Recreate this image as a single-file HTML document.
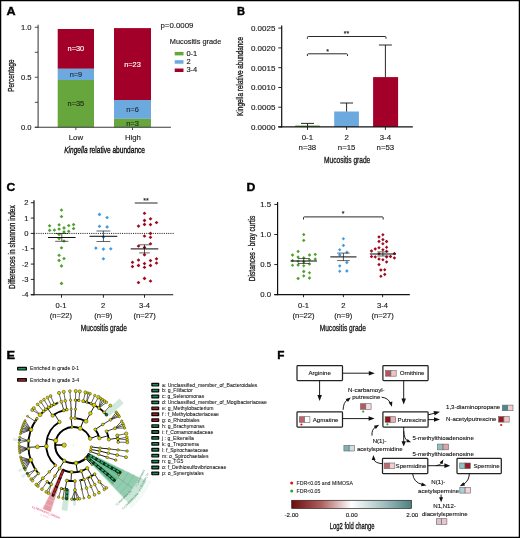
<!DOCTYPE html>
<html><head><meta charset="utf-8"><title>Figure</title>
<style>html,body{margin:0;padding:0;background:#fff;}body{width:520px;height:538px;overflow:hidden;position:relative;font-family:"Liberation Sans",sans-serif;}</style></head>
<body>
<svg width="520" height="538" viewBox="0 0 520 538" font-family='"Liberation Sans", sans-serif' style="display:block;position:absolute;left:0;top:0;will-change:transform">
<rect x="0" y="0" width="520" height="538" fill="#fff"/>
<text x="0" y="0" font-size="10.5" font-weight="bold" fill="#000" stroke="#000" stroke-width="0.35" transform="translate(6.60 15.30) scale(1.2 1)">A</text>
<rect x="57.70" y="29.00" width="36.30" height="39.80" fill="#A30029" />
<rect x="57.70" y="68.80" width="36.30" height="11.20" fill="#6CA9DE" />
<rect x="57.70" y="80.00" width="36.30" height="47.40" fill="#66A63D" />
<rect x="114.00" y="28.10" width="37.00" height="71.90" fill="#A30029" />
<rect x="114.00" y="100.00" width="37.00" height="18.80" fill="#6CA9DE" />
<rect x="114.00" y="118.80" width="37.00" height="8.60" fill="#66A63D" />
<line x1="38.10" y1="24.70" x2="38.10" y2="127.80" stroke="#3a3a3a" stroke-width="1.05" />
<line x1="34.80" y1="127.30" x2="170.90" y2="127.30" stroke="#3a3a3a" stroke-width="1.05" />
<line x1="34.80" y1="27.25" x2="38.10" y2="27.25" stroke="#3a3a3a" stroke-width="0.9" />
<text x="31.60" y="30.00" font-size="7.6" text-anchor="end" fill="#1a1a1a" stroke="#1a1a1a" stroke-width="0.14" >1.0</text>
<line x1="34.80" y1="52.30" x2="38.10" y2="52.30" stroke="#3a3a3a" stroke-width="0.9" />
<line x1="34.80" y1="77.25" x2="38.10" y2="77.25" stroke="#3a3a3a" stroke-width="0.9" />
<text x="31.60" y="80.00" font-size="7.6" text-anchor="end" fill="#1a1a1a" stroke="#1a1a1a" stroke-width="0.14" >0.5</text>
<line x1="34.80" y1="102.30" x2="38.10" y2="102.30" stroke="#3a3a3a" stroke-width="0.9" />
<line x1="34.80" y1="127.30" x2="38.10" y2="127.30" stroke="#3a3a3a" stroke-width="0.9" />
<text x="31.60" y="130.05" font-size="7.6" text-anchor="end" fill="#1a1a1a" stroke="#1a1a1a" stroke-width="0.14" >0.0</text>
<line x1="75.90" y1="127.30" x2="75.90" y2="130.00" stroke="#3a3a3a" stroke-width="0.9" />
<line x1="132.50" y1="127.30" x2="132.50" y2="130.00" stroke="#3a3a3a" stroke-width="0.9" />
<text x="75.90" y="140.00" font-size="7.8" text-anchor="middle" fill="#1a1a1a" stroke="#1a1a1a" stroke-width="0.14" >Low</text>
<text x="132.90" y="140.00" font-size="7.8" text-anchor="middle" fill="#1a1a1a" stroke="#1a1a1a" stroke-width="0.14" >High</text>
<text x="75.90" y="51.40" font-size="7.4" text-anchor="middle" fill="#fff" stroke="#fff" stroke-width="0.14" >n=30</text>
<text x="75.90" y="77.40" font-size="7.4" text-anchor="middle" fill="#1d2a3a" stroke="#1d2a3a" stroke-width="0.14" >n=9</text>
<text x="75.90" y="106.40" font-size="7.4" text-anchor="middle" fill="#1c2a14" stroke="#1c2a14" stroke-width="0.14" >n=35</text>
<text x="132.50" y="66.80" font-size="7.4" text-anchor="middle" fill="#fff" stroke="#fff" stroke-width="0.14" >n=23</text>
<text x="132.50" y="112.00" font-size="7.4" text-anchor="middle" fill="#1d2a3a" stroke="#1d2a3a" stroke-width="0.14" >n=6</text>
<text x="132.50" y="125.50" font-size="7.4" text-anchor="middle" fill="#1c2a14" stroke="#1c2a14" stroke-width="0.14" >n=3</text>
<text x="64.2" y="153.3" font-size="9.0" fill="#0a0a0a" stroke="#0a0a0a" stroke-width="0.32" textLength="80.8" lengthAdjust="spacingAndGlyphs"><tspan font-style="italic">Kingella</tspan> relative abundance</text>
<text x="14.40" y="75.60" font-size="9.0" text-anchor="middle" fill="#1a1a1a" textLength="32.50" lengthAdjust="spacingAndGlyphs" stroke="#1a1a1a" stroke-width="0.32" transform="rotate(-90 14.40 75.60)" >Percentage</text>
<text x="160.50" y="27.60" font-size="7.85" text-anchor="start" fill="#1a1a1a" stroke="#1a1a1a" stroke-width="0.14" >p=0.0009</text>
<text x="169.80" y="44.30" font-size="7.35" text-anchor="start" fill="#1a1a1a" stroke="#1a1a1a" stroke-width="0.14" >Mucositis grade</text>
<rect x="174.70" y="51.90" width="8.80" height="3.50" fill="#66A63D" />
<text x="186.40" y="55.60" font-size="7.5" text-anchor="start" fill="#1a1a1a" stroke="#1a1a1a" stroke-width="0.14" >0-1</text>
<rect x="174.70" y="60.20" width="8.80" height="3.50" fill="#6CA9DE" />
<text x="186.40" y="63.90" font-size="7.5" text-anchor="start" fill="#1a1a1a" stroke="#1a1a1a" stroke-width="0.14" >2</text>
<rect x="174.70" y="68.50" width="8.80" height="3.50" fill="#A30029" />
<text x="186.40" y="72.20" font-size="7.5" text-anchor="start" fill="#1a1a1a" stroke="#1a1a1a" stroke-width="0.14" >3-4</text>
<text x="0" y="0" font-size="10.5" font-weight="bold" fill="#000" stroke="#000" stroke-width="0.35" transform="translate(236.90 15.10) scale(1.06 1)">B</text>
<rect x="295.20" y="125.50" width="24.60" height="1.40" fill="#66A63D" />
<rect x="334.20" y="111.50" width="24.70" height="15.40" fill="#6CA9DE" />
<rect x="373.10" y="77.10" width="25.00" height="49.80" fill="#A30029" />
<line x1="307.50" y1="123.40" x2="307.50" y2="126.00" stroke="#111" stroke-width="0.9" />
<line x1="301.00" y1="123.40" x2="314.00" y2="123.40" stroke="#111" stroke-width="0.9" />
<line x1="346.60" y1="103.00" x2="346.60" y2="111.50" stroke="#111" stroke-width="0.9" />
<line x1="340.20" y1="103.00" x2="353.00" y2="103.00" stroke="#111" stroke-width="0.9" />
<line x1="385.40" y1="45.00" x2="385.40" y2="77.10" stroke="#111" stroke-width="0.9" />
<line x1="378.90" y1="45.00" x2="391.90" y2="45.00" stroke="#111" stroke-width="0.9" />
<line x1="281.70" y1="25.60" x2="281.70" y2="127.50" stroke="#111" stroke-width="1.2" />
<line x1="278.30" y1="126.90" x2="412.80" y2="126.90" stroke="#111" stroke-width="1.2" />
<line x1="278.30" y1="28.10" x2="281.70" y2="28.10" stroke="#111" stroke-width="0.9" />
<text x="275.40" y="30.95" font-size="8.0" text-anchor="end" fill="#1a1a1a" stroke="#1a1a1a" stroke-width="0.14" >0.0025</text>
<line x1="278.30" y1="47.90" x2="281.70" y2="47.90" stroke="#111" stroke-width="0.9" />
<text x="275.40" y="50.75" font-size="8.0" text-anchor="end" fill="#1a1a1a" stroke="#1a1a1a" stroke-width="0.14" >0.0020</text>
<line x1="278.30" y1="67.70" x2="281.70" y2="67.70" stroke="#111" stroke-width="0.9" />
<text x="275.40" y="70.55" font-size="8.0" text-anchor="end" fill="#1a1a1a" stroke="#1a1a1a" stroke-width="0.14" >0.0015</text>
<line x1="278.30" y1="87.50" x2="281.70" y2="87.50" stroke="#111" stroke-width="0.9" />
<text x="275.40" y="90.35" font-size="8.0" text-anchor="end" fill="#1a1a1a" stroke="#1a1a1a" stroke-width="0.14" >0.0010</text>
<line x1="278.30" y1="107.20" x2="281.70" y2="107.20" stroke="#111" stroke-width="0.9" />
<text x="275.40" y="110.05" font-size="8.0" text-anchor="end" fill="#1a1a1a" stroke="#1a1a1a" stroke-width="0.14" >0.0005</text>
<line x1="278.30" y1="126.90" x2="281.70" y2="126.90" stroke="#111" stroke-width="0.9" />
<text x="275.40" y="129.75" font-size="8.0" text-anchor="end" fill="#1a1a1a" stroke="#1a1a1a" stroke-width="0.14" >0.0000</text>
<line x1="307.50" y1="126.90" x2="307.50" y2="129.90" stroke="#111" stroke-width="0.9" />
<line x1="346.60" y1="126.90" x2="346.60" y2="129.90" stroke="#111" stroke-width="0.9" />
<line x1="385.40" y1="126.90" x2="385.40" y2="129.90" stroke="#111" stroke-width="0.9" />
<text x="307.40" y="139.90" font-size="7.8" text-anchor="middle" fill="#1a1a1a" stroke="#1a1a1a" stroke-width="0.14" >0-1</text>
<text x="307.40" y="149.60" font-size="7.8" text-anchor="middle" fill="#1a1a1a" stroke="#1a1a1a" stroke-width="0.14" >n=38</text>
<text x="346.60" y="139.90" font-size="7.8" text-anchor="middle" fill="#1a1a1a" stroke="#1a1a1a" stroke-width="0.14" >2</text>
<text x="346.60" y="149.60" font-size="7.8" text-anchor="middle" fill="#1a1a1a" stroke="#1a1a1a" stroke-width="0.14" >n=15</text>
<text x="385.40" y="139.90" font-size="7.8" text-anchor="middle" fill="#1a1a1a" stroke="#1a1a1a" stroke-width="0.14" >3-4</text>
<text x="385.40" y="149.60" font-size="7.8" text-anchor="middle" fill="#1a1a1a" stroke="#1a1a1a" stroke-width="0.14" >n=53</text>
<text x="347.20" y="162.70" font-size="9.0" text-anchor="middle" fill="#1a1a1a" textLength="46.20" lengthAdjust="spacingAndGlyphs" stroke="#1a1a1a" stroke-width="0.32" >Mucositis grade</text>
<text x="243.40" y="76.40" font-size="9.0" text-anchor="middle" fill="#1a1a1a" textLength="79.00" lengthAdjust="spacingAndGlyphs" stroke="#1a1a1a" stroke-width="0.32" transform="rotate(-90 243.40 76.40)" >Kingella relative abundance</text>
<path d="M307.4,38.8 L307.4,37.3 Q307.4,36.5 308.3,36.5 L385.1,36.5 Q386,36.5 386,37.3 L386,38.8" fill="none" stroke="#111" stroke-width="0.9" />
<path d="M307.4,56.0 L307.4,54.6 Q307.4,53.8 308.3,53.8 L346.6,53.8 Q347.5,53.8 347.5,54.6 L347.5,56.0" fill="none" stroke="#111" stroke-width="0.9" />
<text x="346.50" y="36.30" font-size="7.0" text-anchor="middle" fill="#1a1a1a" stroke="#1a1a1a" stroke-width="0.14" >**</text>
<text x="327.50" y="53.50" font-size="7.0" text-anchor="middle" fill="#1a1a1a" stroke="#1a1a1a" stroke-width="0.14" >*</text>
<text x="0" y="0" font-size="10.5" font-weight="bold" fill="#000" stroke="#000" stroke-width="0.35" transform="translate(6.60 191.30) scale(1.16 1)">C</text>
<line x1="34.00" y1="233.41" x2="173.80" y2="233.41" stroke="#111" stroke-width="0.9" stroke-dasharray="1.1 1.1"/>
<path d="M61.50,208.15 Q62.42,209.07 63.35,210.00 Q62.42,210.93 61.50,211.85 Q60.58,210.93 59.65,210.00 Q60.58,209.07 61.50,208.15Z" fill="#4FA22E"/>
<path d="M61.50,214.65 Q62.42,215.57 63.35,216.50 Q62.42,217.43 61.50,218.35 Q60.58,217.43 59.65,216.50 Q60.58,215.57 61.50,214.65Z" fill="#4FA22E"/>
<path d="M49.60,223.90 Q50.52,224.82 51.45,225.75 Q50.52,226.68 49.60,227.60 Q48.68,226.68 47.75,225.75 Q48.68,224.82 49.60,223.90Z" fill="#4FA22E"/>
<path d="M59.10,222.90 Q60.02,223.82 60.95,224.75 Q60.02,225.68 59.10,226.60 Q58.18,225.68 57.25,224.75 Q58.18,223.82 59.10,222.90Z" fill="#4FA22E"/>
<path d="M68.75,223.65 Q69.67,224.57 70.60,225.50 Q69.67,226.43 68.75,227.35 Q67.83,226.43 66.90,225.50 Q67.83,224.57 68.75,223.65Z" fill="#4FA22E"/>
<path d="M73.60,222.75 Q74.52,223.67 75.45,224.60 Q74.52,225.53 73.60,226.45 Q72.67,225.53 71.75,224.60 Q72.67,223.67 73.60,222.75Z" fill="#4FA22E"/>
<path d="M64.00,226.05 Q64.92,226.97 65.85,227.90 Q64.92,228.83 64.00,229.75 Q63.08,228.83 62.15,227.90 Q63.08,226.97 64.00,226.05Z" fill="#4FA22E"/>
<path d="M73.60,226.65 Q74.52,227.57 75.45,228.50 Q74.52,229.43 73.60,230.35 Q72.67,229.43 71.75,228.50 Q72.67,227.57 73.60,226.65Z" fill="#4FA22E"/>
<path d="M49.60,228.40 Q50.52,229.32 51.45,230.25 Q50.52,231.18 49.60,232.10 Q48.68,231.18 47.75,230.25 Q48.68,229.32 49.60,228.40Z" fill="#4FA22E"/>
<path d="M54.40,228.15 Q55.32,229.07 56.25,230.00 Q55.32,230.93 54.40,231.85 Q53.48,230.93 52.55,230.00 Q53.48,229.07 54.40,228.15Z" fill="#4FA22E"/>
<path d="M59.10,227.15 Q60.02,228.07 60.95,229.00 Q60.02,229.93 59.10,230.85 Q58.18,229.93 57.25,229.00 Q58.18,228.07 59.10,227.15Z" fill="#4FA22E"/>
<path d="M68.75,229.40 Q69.67,230.32 70.60,231.25 Q69.67,232.18 68.75,233.10 Q67.83,232.18 66.90,231.25 Q67.83,230.32 68.75,229.40Z" fill="#4FA22E"/>
<path d="M64.00,230.05 Q64.92,230.97 65.85,231.90 Q64.92,232.83 64.00,233.75 Q63.08,232.83 62.15,231.90 Q63.08,230.97 64.00,230.05Z" fill="#4FA22E"/>
<path d="M59.10,232.55 Q60.02,233.47 60.95,234.40 Q60.02,235.33 59.10,236.25 Q58.18,235.33 57.25,234.40 Q58.18,233.47 59.10,232.55Z" fill="#4FA22E"/>
<path d="M59.10,236.65 Q60.02,237.57 60.95,238.50 Q60.02,239.43 59.10,240.35 Q58.18,239.43 57.25,238.50 Q58.18,237.57 59.10,236.65Z" fill="#4FA22E"/>
<path d="M64.00,239.15 Q64.92,240.07 65.85,241.00 Q64.92,241.93 64.00,242.85 Q63.08,241.93 62.15,241.00 Q63.08,240.07 64.00,239.15Z" fill="#4FA22E"/>
<path d="M61.50,245.90 Q62.42,246.82 63.35,247.75 Q62.42,248.68 61.50,249.60 Q60.58,248.68 59.65,247.75 Q60.58,246.82 61.50,245.90Z" fill="#4FA22E"/>
<path d="M59.10,253.40 Q60.02,254.32 60.95,255.25 Q60.02,256.18 59.10,257.10 Q58.18,256.18 57.25,255.25 Q58.18,254.32 59.10,253.40Z" fill="#4FA22E"/>
<path d="M64.00,256.65 Q64.92,257.57 65.85,258.50 Q64.92,259.43 64.00,260.35 Q63.08,259.43 62.15,258.50 Q63.08,257.57 64.00,256.65Z" fill="#4FA22E"/>
<path d="M59.10,258.55 Q60.02,259.47 60.95,260.40 Q60.02,261.32 59.10,262.25 Q58.18,261.32 57.25,260.40 Q58.18,259.47 59.10,258.55Z" fill="#4FA22E"/>
<path d="M61.50,264.05 Q62.42,264.97 63.35,265.90 Q62.42,266.82 61.50,267.75 Q60.58,266.82 59.65,265.90 Q60.58,264.97 61.50,264.05Z" fill="#4FA22E"/>
<path d="M61.50,281.55 Q62.42,282.47 63.35,283.40 Q62.42,284.32 61.50,285.25 Q60.58,284.32 59.65,283.40 Q60.58,282.47 61.50,281.55Z" fill="#4FA22E"/>
<path d="M99.50,212.55 Q100.42,213.47 101.35,214.40 Q100.42,215.33 99.50,216.25 Q98.58,215.33 97.65,214.40 Q98.58,213.47 99.50,212.55Z" fill="#3E9BE3"/>
<path d="M107.10,215.65 Q108.02,216.57 108.95,217.50 Q108.02,218.43 107.10,219.35 Q106.17,218.43 105.25,217.50 Q106.17,216.57 107.10,215.65Z" fill="#3E9BE3"/>
<path d="M99.50,224.40 Q100.42,225.32 101.35,226.25 Q100.42,227.18 99.50,228.10 Q98.58,227.18 97.65,226.25 Q98.58,225.32 99.50,224.40Z" fill="#3E9BE3"/>
<path d="M107.10,225.05 Q108.02,225.97 108.95,226.90 Q108.02,227.83 107.10,228.75 Q106.17,227.83 105.25,226.90 Q106.17,225.97 107.10,225.05Z" fill="#3E9BE3"/>
<path d="M103.40,235.05 Q104.33,235.97 105.25,236.90 Q104.33,237.83 103.40,238.75 Q102.48,237.83 101.55,236.90 Q102.48,235.97 103.40,235.05Z" fill="#3E9BE3"/>
<path d="M95.90,246.25 Q96.83,247.17 97.75,248.10 Q96.83,249.03 95.90,249.95 Q94.98,249.03 94.05,248.10 Q94.98,247.17 95.90,246.25Z" fill="#3E9BE3"/>
<path d="M103.40,247.25 Q104.33,248.17 105.25,249.10 Q104.33,250.03 103.40,250.95 Q102.48,250.03 101.55,249.10 Q102.48,248.17 103.40,247.25Z" fill="#3E9BE3"/>
<path d="M110.75,246.90 Q111.67,247.82 112.60,248.75 Q111.67,249.68 110.75,250.60 Q109.83,249.68 108.90,248.75 Q109.83,247.82 110.75,246.90Z" fill="#3E9BE3"/>
<path d="M103.40,256.90 Q104.33,257.82 105.25,258.75 Q104.33,259.68 103.40,260.60 Q102.48,259.68 101.55,258.75 Q102.48,257.82 103.40,256.90Z" fill="#3E9BE3"/>
<path d="M144.50,211.40 Q145.43,212.32 146.35,213.25 Q145.43,214.18 144.50,215.10 Q143.57,214.18 142.65,213.25 Q143.57,212.32 144.50,211.40Z" fill="#A00A1E"/>
<path d="M150.50,216.90 Q151.43,217.82 152.35,218.75 Q151.43,219.68 150.50,220.60 Q149.57,219.68 148.65,218.75 Q149.57,217.82 150.50,216.90Z" fill="#A00A1E"/>
<path d="M144.50,218.55 Q145.43,219.47 146.35,220.40 Q145.43,221.33 144.50,222.25 Q143.57,221.33 142.65,220.40 Q143.57,219.47 144.50,218.55Z" fill="#A00A1E"/>
<path d="M156.50,220.65 Q157.43,221.57 158.35,222.50 Q157.43,223.43 156.50,224.35 Q155.57,223.43 154.65,222.50 Q155.57,221.57 156.50,220.65Z" fill="#A00A1E"/>
<path d="M144.50,222.55 Q145.43,223.47 146.35,224.40 Q145.43,225.33 144.50,226.25 Q143.57,225.33 142.65,224.40 Q143.57,223.47 144.50,222.55Z" fill="#A00A1E"/>
<path d="M150.50,222.75 Q151.43,223.67 152.35,224.60 Q151.43,225.53 150.50,226.45 Q149.57,225.53 148.65,224.60 Q149.57,223.67 150.50,222.75Z" fill="#A00A1E"/>
<path d="M138.50,224.25 Q139.43,225.17 140.35,226.10 Q139.43,227.03 138.50,227.95 Q137.57,227.03 136.65,226.10 Q137.57,225.17 138.50,224.25Z" fill="#A00A1E"/>
<path d="M150.50,231.55 Q151.43,232.47 152.35,233.40 Q151.43,234.33 150.50,235.25 Q149.57,234.33 148.65,233.40 Q149.57,232.47 150.50,231.55Z" fill="#A00A1E"/>
<path d="M144.50,234.15 Q145.43,235.07 146.35,236.00 Q145.43,236.93 144.50,237.85 Q143.57,236.93 142.65,236.00 Q143.57,235.07 144.50,234.15Z" fill="#A00A1E"/>
<path d="M150.50,235.40 Q151.43,236.32 152.35,237.25 Q151.43,238.18 150.50,239.10 Q149.57,238.18 148.65,237.25 Q149.57,236.32 150.50,235.40Z" fill="#A00A1E"/>
<path d="M150.50,241.90 Q151.43,242.82 152.35,243.75 Q151.43,244.68 150.50,245.60 Q149.57,244.68 148.65,243.75 Q149.57,242.82 150.50,241.90Z" fill="#A00A1E"/>
<path d="M138.50,244.15 Q139.43,245.07 140.35,246.00 Q139.43,246.93 138.50,247.85 Q137.57,246.93 136.65,246.00 Q137.57,245.07 138.50,244.15Z" fill="#A00A1E"/>
<path d="M144.50,245.55 Q145.43,246.47 146.35,247.40 Q145.43,248.33 144.50,249.25 Q143.57,248.33 142.65,247.40 Q143.57,246.47 144.50,245.55Z" fill="#A00A1E"/>
<path d="M144.50,252.85 Q145.43,253.77 146.35,254.70 Q145.43,255.62 144.50,256.55 Q143.57,255.62 142.65,254.70 Q143.57,253.77 144.50,252.85Z" fill="#A00A1E"/>
<path d="M156.50,256.90 Q157.43,257.82 158.35,258.75 Q157.43,259.68 156.50,260.60 Q155.57,259.68 154.65,258.75 Q155.57,257.82 156.50,256.90Z" fill="#A00A1E"/>
<path d="M138.50,258.15 Q139.43,259.07 140.35,260.00 Q139.43,260.93 138.50,261.85 Q137.57,260.93 136.65,260.00 Q137.57,259.07 138.50,258.15Z" fill="#A00A1E"/>
<path d="M150.50,258.75 Q151.43,259.68 152.35,260.60 Q151.43,261.53 150.50,262.45 Q149.57,261.53 148.65,260.60 Q149.57,259.68 150.50,258.75Z" fill="#A00A1E"/>
<path d="M132.50,260.40 Q133.43,261.32 134.35,262.25 Q133.43,263.18 132.50,264.10 Q131.57,263.18 130.65,262.25 Q131.57,261.32 132.50,260.40Z" fill="#A00A1E"/>
<path d="M156.50,261.15 Q157.43,262.07 158.35,263.00 Q157.43,263.93 156.50,264.85 Q155.57,263.93 154.65,263.00 Q155.57,262.07 156.50,261.15Z" fill="#A00A1E"/>
<path d="M144.50,261.65 Q145.43,262.57 146.35,263.50 Q145.43,264.43 144.50,265.35 Q143.57,264.43 142.65,263.50 Q143.57,262.57 144.50,261.65Z" fill="#A00A1E"/>
<path d="M138.50,263.55 Q139.43,264.47 140.35,265.40 Q139.43,266.32 138.50,267.25 Q137.57,266.32 136.65,265.40 Q137.57,264.47 138.50,263.55Z" fill="#A00A1E"/>
<path d="M150.50,263.55 Q151.43,264.47 152.35,265.40 Q151.43,266.32 150.50,267.25 Q149.57,266.32 148.65,265.40 Q149.57,264.47 150.50,263.55Z" fill="#A00A1E"/>
<path d="M132.50,264.65 Q133.43,265.57 134.35,266.50 Q133.43,267.43 132.50,268.35 Q131.57,267.43 130.65,266.50 Q131.57,265.57 132.50,264.65Z" fill="#A00A1E"/>
<path d="M144.50,265.40 Q145.43,266.32 146.35,267.25 Q145.43,268.18 144.50,269.10 Q143.57,268.18 142.65,267.25 Q143.57,266.32 144.50,265.40Z" fill="#A00A1E"/>
<path d="M144.50,276.55 Q145.43,277.47 146.35,278.40 Q145.43,279.32 144.50,280.25 Q143.57,279.32 142.65,278.40 Q143.57,277.47 144.50,276.55Z" fill="#A00A1E"/>
<path d="M150.50,279.15 Q151.43,280.07 152.35,281.00 Q151.43,281.93 150.50,282.85 Q149.57,281.93 148.65,281.00 Q149.57,280.07 150.50,279.15Z" fill="#A00A1E"/>
<path d="M138.50,280.65 Q139.43,281.57 140.35,282.50 Q139.43,283.43 138.50,284.35 Q137.57,283.43 136.65,282.50 Q137.57,281.57 138.50,280.65Z" fill="#A00A1E"/>
<line x1="48.00" y1="237.50" x2="75.60" y2="237.50" stroke="#111" stroke-width="1.05" />
<line x1="61.80" y1="233.50" x2="61.80" y2="241.30" stroke="#111" stroke-width="0.7" />
<line x1="55.20" y1="233.50" x2="68.40" y2="233.50" stroke="#111" stroke-width="0.65" />
<line x1="55.20" y1="241.30" x2="68.40" y2="241.30" stroke="#111" stroke-width="0.65" />
<line x1="89.50" y1="236.30" x2="117.30" y2="236.30" stroke="#111" stroke-width="1.05" />
<line x1="103.40" y1="231.00" x2="103.40" y2="241.50" stroke="#111" stroke-width="0.7" />
<line x1="96.50" y1="231.00" x2="110.30" y2="231.00" stroke="#111" stroke-width="0.65" />
<line x1="96.50" y1="241.50" x2="110.30" y2="241.50" stroke="#111" stroke-width="0.65" />
<line x1="130.70" y1="248.90" x2="158.30" y2="248.90" stroke="#111" stroke-width="1.05" />
<line x1="144.50" y1="244.80" x2="144.50" y2="252.90" stroke="#111" stroke-width="0.7" />
<line x1="139.10" y1="244.80" x2="149.90" y2="244.80" stroke="#111" stroke-width="0.65" />
<line x1="139.10" y1="252.90" x2="149.90" y2="252.90" stroke="#111" stroke-width="0.65" />
<line x1="34.00" y1="200.20" x2="34.00" y2="295.33" stroke="#111" stroke-width="1.2" />
<line x1="30.80" y1="294.73" x2="173.20" y2="294.73" stroke="#111" stroke-width="1.2" />
<line x1="30.80" y1="202.75" x2="34.00" y2="202.75" stroke="#111" stroke-width="0.9" />
<text x="28.60" y="205.45" font-size="7.6" text-anchor="end" fill="#1a1a1a" stroke="#1a1a1a" stroke-width="0.14" >2</text>
<line x1="30.80" y1="218.08" x2="34.00" y2="218.08" stroke="#111" stroke-width="0.9" />
<text x="28.60" y="220.78" font-size="7.6" text-anchor="end" fill="#1a1a1a" stroke="#1a1a1a" stroke-width="0.14" >1</text>
<line x1="30.80" y1="233.41" x2="34.00" y2="233.41" stroke="#111" stroke-width="0.9" />
<text x="28.60" y="236.11" font-size="7.6" text-anchor="end" fill="#1a1a1a" stroke="#1a1a1a" stroke-width="0.14" >0</text>
<line x1="30.80" y1="248.74" x2="34.00" y2="248.74" stroke="#111" stroke-width="0.9" />
<text x="28.60" y="251.44" font-size="7.6" text-anchor="end" fill="#1a1a1a" stroke="#1a1a1a" stroke-width="0.14" >-1</text>
<line x1="30.80" y1="264.07" x2="34.00" y2="264.07" stroke="#111" stroke-width="0.9" />
<text x="28.60" y="266.77" font-size="7.6" text-anchor="end" fill="#1a1a1a" stroke="#1a1a1a" stroke-width="0.14" >-2</text>
<line x1="30.80" y1="279.40" x2="34.00" y2="279.40" stroke="#111" stroke-width="0.9" />
<text x="28.60" y="282.10" font-size="7.6" text-anchor="end" fill="#1a1a1a" stroke="#1a1a1a" stroke-width="0.14" >-3</text>
<line x1="30.80" y1="294.73" x2="34.00" y2="294.73" stroke="#111" stroke-width="0.9" />
<text x="28.60" y="297.43" font-size="7.6" text-anchor="end" fill="#1a1a1a" stroke="#1a1a1a" stroke-width="0.14" >-4</text>
<line x1="61.50" y1="294.73" x2="61.50" y2="297.73" stroke="#111" stroke-width="0.9" />
<line x1="103.40" y1="294.73" x2="103.40" y2="297.73" stroke="#111" stroke-width="0.9" />
<line x1="144.50" y1="294.73" x2="144.50" y2="297.73" stroke="#111" stroke-width="0.9" />
<text x="60.90" y="307.60" font-size="7.6" text-anchor="middle" fill="#1a1a1a" stroke="#1a1a1a" stroke-width="0.14" >0-1</text>
<text x="60.90" y="317.70" font-size="7.6" text-anchor="middle" fill="#1a1a1a" stroke="#1a1a1a" stroke-width="0.14" >(n=22)</text>
<text x="103.20" y="307.60" font-size="7.6" text-anchor="middle" fill="#1a1a1a" stroke="#1a1a1a" stroke-width="0.14" >2</text>
<text x="103.20" y="317.70" font-size="7.6" text-anchor="middle" fill="#1a1a1a" stroke="#1a1a1a" stroke-width="0.14" >(n=9)</text>
<text x="144.60" y="307.60" font-size="7.6" text-anchor="middle" fill="#1a1a1a" stroke="#1a1a1a" stroke-width="0.14" >3-4</text>
<text x="144.60" y="317.70" font-size="7.6" text-anchor="middle" fill="#1a1a1a" stroke="#1a1a1a" stroke-width="0.14" >(n=27)</text>
<text x="103.80" y="330.80" font-size="9.0" text-anchor="middle" fill="#1a1a1a" textLength="46.20" lengthAdjust="spacingAndGlyphs" stroke="#1a1a1a" stroke-width="0.32" >Mucositis grade</text>
<text x="15.00" y="247.10" font-size="9.0" text-anchor="middle" fill="#1a1a1a" textLength="83.60" lengthAdjust="spacingAndGlyphs" stroke="#1a1a1a" stroke-width="0.32" transform="rotate(-90 15.00 247.10)" >Differences in shannon index</text>
<line x1="134.80" y1="203.00" x2="157.60" y2="203.00" stroke="#111" stroke-width="0.9" />
<text x="146.10" y="203.10" font-size="7.0" text-anchor="middle" fill="#1a1a1a" stroke="#1a1a1a" stroke-width="0.14" >**</text>
<text x="0" y="0" font-size="10.5" font-weight="bold" fill="#000" stroke="#000" stroke-width="0.35" transform="translate(246.40 190.70) scale(1.17 1)">D</text>
<path d="M303.75,232.65 Q304.62,233.53 305.50,234.40 Q304.62,235.28 303.75,236.15 Q302.88,235.28 302.00,234.40 Q302.88,233.53 303.75,232.65Z" fill="#4FA22E"/>
<path d="M303.75,238.85 Q304.62,239.72 305.50,240.60 Q304.62,241.47 303.75,242.35 Q302.88,241.47 302.00,240.60 Q302.88,239.72 303.75,238.85Z" fill="#4FA22E"/>
<path d="M298.10,249.85 Q298.98,250.72 299.85,251.60 Q298.98,252.47 298.10,253.35 Q297.23,252.47 296.35,251.60 Q297.23,250.72 298.10,249.85Z" fill="#4FA22E"/>
<path d="M292.50,253.25 Q293.38,254.12 294.25,255.00 Q293.38,255.88 292.50,256.75 Q291.62,255.88 290.75,255.00 Q291.62,254.12 292.50,253.25Z" fill="#4FA22E"/>
<path d="M309.50,253.25 Q310.38,254.12 311.25,255.00 Q310.38,255.88 309.50,256.75 Q308.62,255.88 307.75,255.00 Q308.62,254.12 309.50,253.25Z" fill="#4FA22E"/>
<path d="M315.25,252.85 Q316.12,253.72 317.00,254.60 Q316.12,255.47 315.25,256.35 Q314.38,255.47 313.50,254.60 Q314.38,253.72 315.25,252.85Z" fill="#4FA22E"/>
<path d="M298.10,255.35 Q298.98,256.23 299.85,257.10 Q298.98,257.98 298.10,258.85 Q297.23,257.98 296.35,257.10 Q297.23,256.23 298.10,255.35Z" fill="#4FA22E"/>
<path d="M303.75,256.00 Q304.62,256.88 305.50,257.75 Q304.62,258.62 303.75,259.50 Q302.88,258.62 302.00,257.75 Q302.88,256.88 303.75,256.00Z" fill="#4FA22E"/>
<path d="M309.50,258.00 Q310.38,258.88 311.25,259.75 Q310.38,260.62 309.50,261.50 Q308.62,260.62 307.75,259.75 Q308.62,258.88 309.50,258.00Z" fill="#4FA22E"/>
<path d="M315.25,257.35 Q316.12,258.23 317.00,259.10 Q316.12,259.98 315.25,260.85 Q314.38,259.98 313.50,259.10 Q314.38,258.23 315.25,257.35Z" fill="#4FA22E"/>
<path d="M292.50,258.85 Q293.38,259.73 294.25,260.60 Q293.38,261.48 292.50,262.35 Q291.62,261.48 290.75,260.60 Q291.62,259.73 292.50,258.85Z" fill="#4FA22E"/>
<path d="M298.10,259.50 Q298.98,260.38 299.85,261.25 Q298.98,262.12 298.10,263.00 Q297.23,262.12 296.35,261.25 Q297.23,260.38 298.10,259.50Z" fill="#4FA22E"/>
<path d="M303.75,260.15 Q304.62,261.02 305.50,261.90 Q304.62,262.77 303.75,263.65 Q302.88,262.77 302.00,261.90 Q302.88,261.02 303.75,260.15Z" fill="#4FA22E"/>
<path d="M309.50,262.25 Q310.38,263.12 311.25,264.00 Q310.38,264.88 309.50,265.75 Q308.62,264.88 307.75,264.00 Q308.62,263.12 309.50,262.25Z" fill="#4FA22E"/>
<path d="M292.50,263.50 Q293.38,264.38 294.25,265.25 Q293.38,266.12 292.50,267.00 Q291.62,266.12 290.75,265.25 Q291.62,264.38 292.50,263.50Z" fill="#4FA22E"/>
<path d="M298.10,263.25 Q298.98,264.12 299.85,265.00 Q298.98,265.88 298.10,266.75 Q297.23,265.88 296.35,265.00 Q297.23,264.12 298.10,263.25Z" fill="#4FA22E"/>
<path d="M303.75,264.00 Q304.62,264.88 305.50,265.75 Q304.62,266.62 303.75,267.50 Q302.88,266.62 302.00,265.75 Q302.88,264.88 303.75,264.00Z" fill="#4FA22E"/>
<path d="M303.75,269.75 Q304.62,270.62 305.50,271.50 Q304.62,272.38 303.75,273.25 Q302.88,272.38 302.00,271.50 Q302.88,270.62 303.75,269.75Z" fill="#4FA22E"/>
<path d="M309.50,271.00 Q310.38,271.88 311.25,272.75 Q310.38,273.62 309.50,274.50 Q308.62,273.62 307.75,272.75 Q308.62,271.88 309.50,271.00Z" fill="#4FA22E"/>
<path d="M303.75,274.15 Q304.62,275.02 305.50,275.90 Q304.62,276.77 303.75,277.65 Q302.88,276.77 302.00,275.90 Q302.88,275.02 303.75,274.15Z" fill="#4FA22E"/>
<path d="M309.50,276.25 Q310.38,277.12 311.25,278.00 Q310.38,278.88 309.50,279.75 Q308.62,278.88 307.75,278.00 Q308.62,277.12 309.50,276.25Z" fill="#4FA22E"/>
<path d="M298.10,276.75 Q298.98,277.62 299.85,278.50 Q298.98,279.38 298.10,280.25 Q297.23,279.38 296.35,278.50 Q297.23,277.62 298.10,276.75Z" fill="#4FA22E"/>
<path d="M343.40,237.00 Q344.27,237.88 345.15,238.75 Q344.27,239.62 343.40,240.50 Q342.52,239.62 341.65,238.75 Q342.52,237.88 343.40,237.00Z" fill="#3E9BE3"/>
<path d="M343.40,243.85 Q344.27,244.72 345.15,245.60 Q344.27,246.47 343.40,247.35 Q342.52,246.47 341.65,245.60 Q342.52,244.72 343.40,243.85Z" fill="#3E9BE3"/>
<path d="M339.75,248.00 Q340.62,248.88 341.50,249.75 Q340.62,250.62 339.75,251.50 Q338.88,250.62 338.00,249.75 Q338.88,248.88 339.75,248.00Z" fill="#3E9BE3"/>
<path d="M346.90,250.50 Q347.77,251.38 348.65,252.25 Q347.77,253.12 346.90,254.00 Q346.02,253.12 345.15,252.25 Q346.02,251.38 346.90,250.50Z" fill="#3E9BE3"/>
<path d="M339.75,253.25 Q340.62,254.12 341.50,255.00 Q340.62,255.88 339.75,256.75 Q338.88,255.88 338.00,255.00 Q338.88,254.12 339.75,253.25Z" fill="#3E9BE3"/>
<path d="M346.90,260.75 Q347.77,261.62 348.65,262.50 Q347.77,263.38 346.90,264.25 Q346.02,263.38 345.15,262.50 Q346.02,261.62 346.90,260.75Z" fill="#3E9BE3"/>
<path d="M339.75,264.15 Q340.62,265.02 341.50,265.90 Q340.62,266.77 339.75,267.65 Q338.88,266.77 338.00,265.90 Q338.88,265.02 339.75,264.15Z" fill="#3E9BE3"/>
<path d="M339.75,269.50 Q340.62,270.38 341.50,271.25 Q340.62,272.12 339.75,273.00 Q338.88,272.12 338.00,271.25 Q338.88,270.38 339.75,269.50Z" fill="#3E9BE3"/>
<path d="M346.90,269.25 Q347.77,270.12 348.65,271.00 Q347.77,271.88 346.90,272.75 Q346.02,271.88 345.15,271.00 Q346.02,270.12 346.90,269.25Z" fill="#3E9BE3"/>
<path d="M382.90,233.00 Q383.77,233.88 384.65,234.75 Q383.77,235.62 382.90,236.50 Q382.02,235.62 381.15,234.75 Q382.02,233.88 382.90,233.00Z" fill="#A00A1E"/>
<path d="M379.00,235.35 Q379.88,236.22 380.75,237.10 Q379.88,237.97 379.00,238.85 Q378.12,237.97 377.25,237.10 Q378.12,236.22 379.00,235.35Z" fill="#A00A1E"/>
<path d="M382.90,237.65 Q383.77,238.53 384.65,239.40 Q383.77,240.28 382.90,241.15 Q382.02,240.28 381.15,239.40 Q382.02,238.53 382.90,237.65Z" fill="#A00A1E"/>
<path d="M379.00,239.85 Q379.88,240.72 380.75,241.60 Q379.88,242.47 379.00,243.35 Q378.12,242.47 377.25,241.60 Q378.12,240.72 379.00,239.85Z" fill="#A00A1E"/>
<path d="M386.60,239.75 Q387.48,240.62 388.35,241.50 Q387.48,242.38 386.60,243.25 Q385.73,242.38 384.85,241.50 Q385.73,240.62 386.60,239.75Z" fill="#A00A1E"/>
<path d="M382.90,242.00 Q383.77,242.88 384.65,243.75 Q383.77,244.62 382.90,245.50 Q382.02,244.62 381.15,243.75 Q382.02,242.88 382.90,242.00Z" fill="#A00A1E"/>
<path d="M379.00,246.00 Q379.88,246.88 380.75,247.75 Q379.88,248.62 379.00,249.50 Q378.12,248.62 377.25,247.75 Q378.12,246.88 379.00,246.00Z" fill="#A00A1E"/>
<path d="M386.60,245.50 Q387.48,246.38 388.35,247.25 Q387.48,248.12 386.60,249.00 Q385.73,248.12 384.85,247.25 Q385.73,246.38 386.60,245.50Z" fill="#A00A1E"/>
<path d="M375.25,247.35 Q376.12,248.22 377.00,249.10 Q376.12,249.97 375.25,250.85 Q374.38,249.97 373.50,249.10 Q374.38,248.22 375.25,247.35Z" fill="#A00A1E"/>
<path d="M382.90,248.00 Q383.77,248.88 384.65,249.75 Q383.77,250.62 382.90,251.50 Q382.02,250.62 381.15,249.75 Q382.02,248.88 382.90,248.00Z" fill="#A00A1E"/>
<path d="M371.50,249.25 Q372.38,250.12 373.25,251.00 Q372.38,251.88 371.50,252.75 Q370.62,251.88 369.75,251.00 Q370.62,250.12 371.50,249.25Z" fill="#A00A1E"/>
<path d="M386.60,249.50 Q387.48,250.38 388.35,251.25 Q387.48,252.12 386.60,253.00 Q385.73,252.12 384.85,251.25 Q385.73,250.38 386.60,249.50Z" fill="#A00A1E"/>
<path d="M379.00,252.00 Q379.88,252.88 380.75,253.75 Q379.88,254.62 379.00,255.50 Q378.12,254.62 377.25,253.75 Q378.12,252.88 379.00,252.00Z" fill="#A00A1E"/>
<path d="M394.40,251.65 Q395.27,252.53 396.15,253.40 Q395.27,254.28 394.40,255.15 Q393.52,254.28 392.65,253.40 Q393.52,252.53 394.40,251.65Z" fill="#A00A1E"/>
<path d="M371.50,254.85 Q372.38,255.73 373.25,256.60 Q372.38,257.48 371.50,258.35 Q370.62,257.48 369.75,256.60 Q370.62,255.73 371.50,254.85Z" fill="#A00A1E"/>
<path d="M375.25,255.15 Q376.12,256.02 377.00,256.90 Q376.12,257.77 375.25,258.65 Q374.38,257.77 373.50,256.90 Q374.38,256.02 375.25,255.15Z" fill="#A00A1E"/>
<path d="M386.60,255.15 Q387.48,256.02 388.35,256.90 Q387.48,257.77 386.60,258.65 Q385.73,257.77 384.85,256.90 Q385.73,256.02 386.60,255.15Z" fill="#A00A1E"/>
<path d="M390.50,254.75 Q391.38,255.62 392.25,256.50 Q391.38,257.38 390.50,258.25 Q389.62,257.38 388.75,256.50 Q389.62,255.62 390.50,254.75Z" fill="#A00A1E"/>
<path d="M394.40,256.15 Q395.27,257.02 396.15,257.90 Q395.27,258.77 394.40,259.65 Q393.52,258.77 392.65,257.90 Q393.52,257.02 394.40,256.15Z" fill="#A00A1E"/>
<path d="M379.00,257.35 Q379.88,258.23 380.75,259.10 Q379.88,259.98 379.00,260.85 Q378.12,259.98 377.25,259.10 Q378.12,258.23 379.00,257.35Z" fill="#A00A1E"/>
<path d="M382.90,258.00 Q383.77,258.88 384.65,259.75 Q383.77,260.62 382.90,261.50 Q382.02,260.62 381.15,259.75 Q382.02,258.88 382.90,258.00Z" fill="#A00A1E"/>
<path d="M386.60,260.15 Q387.48,261.02 388.35,261.90 Q387.48,262.77 386.60,263.65 Q385.73,262.77 384.85,261.90 Q385.73,261.02 386.60,260.15Z" fill="#A00A1E"/>
<path d="M379.00,262.85 Q379.88,263.73 380.75,264.60 Q379.88,265.48 379.00,266.35 Q378.12,265.48 377.25,264.60 Q378.12,263.73 379.00,262.85Z" fill="#A00A1E"/>
<path d="M380.90,268.25 Q381.77,269.12 382.65,270.00 Q381.77,270.88 380.90,271.75 Q380.02,270.88 379.15,270.00 Q380.02,269.12 380.90,268.25Z" fill="#A00A1E"/>
<path d="M384.75,268.00 Q385.62,268.88 386.50,269.75 Q385.62,270.62 384.75,271.50 Q383.88,270.62 383.00,269.75 Q383.88,268.88 384.75,268.00Z" fill="#A00A1E"/>
<path d="M384.75,272.65 Q385.62,273.52 386.50,274.40 Q385.62,275.27 384.75,276.15 Q383.88,275.27 383.00,274.40 Q383.88,273.52 384.75,272.65Z" fill="#A00A1E"/>
<path d="M380.90,274.50 Q381.77,275.38 382.65,276.25 Q381.77,277.12 380.90,278.00 Q380.02,277.12 379.15,276.25 Q380.02,275.38 380.90,274.50Z" fill="#A00A1E"/>
<line x1="290.55" y1="261.00" x2="316.95" y2="261.00" stroke="#111" stroke-width="1.05" />
<line x1="303.75" y1="258.50" x2="303.75" y2="263.50" stroke="#111" stroke-width="0.7" />
<line x1="297.95" y1="258.50" x2="309.55" y2="258.50" stroke="#111" stroke-width="0.65" />
<line x1="297.95" y1="263.50" x2="309.55" y2="263.50" stroke="#111" stroke-width="0.65" />
<line x1="330.30" y1="256.90" x2="356.50" y2="256.90" stroke="#111" stroke-width="1.05" />
<line x1="343.40" y1="253.10" x2="343.40" y2="260.60" stroke="#111" stroke-width="0.7" />
<line x1="337.10" y1="253.10" x2="349.70" y2="253.10" stroke="#111" stroke-width="0.65" />
<line x1="337.10" y1="260.60" x2="349.70" y2="260.60" stroke="#111" stroke-width="0.65" />
<line x1="369.80" y1="254.00" x2="396.00" y2="254.00" stroke="#111" stroke-width="1.05" />
<line x1="382.90" y1="251.90" x2="382.90" y2="256.00" stroke="#111" stroke-width="0.7" />
<line x1="377.30" y1="251.90" x2="388.50" y2="251.90" stroke="#111" stroke-width="0.65" />
<line x1="377.30" y1="256.00" x2="388.50" y2="256.00" stroke="#111" stroke-width="0.65" />
<line x1="277.60" y1="201.90" x2="277.60" y2="295.20" stroke="#111" stroke-width="1.2" />
<line x1="274.30" y1="294.60" x2="409.80" y2="294.60" stroke="#111" stroke-width="1.2" />
<line x1="274.30" y1="204.45" x2="277.60" y2="204.45" stroke="#111" stroke-width="0.9" />
<text x="271.00" y="207.25" font-size="7.8" text-anchor="end" fill="#1a1a1a" stroke="#1a1a1a" stroke-width="0.14" >1.5</text>
<line x1="274.30" y1="234.50" x2="277.60" y2="234.50" stroke="#111" stroke-width="0.9" />
<text x="271.00" y="237.30" font-size="7.8" text-anchor="end" fill="#1a1a1a" stroke="#1a1a1a" stroke-width="0.14" >1.0</text>
<line x1="274.30" y1="264.55" x2="277.60" y2="264.55" stroke="#111" stroke-width="0.9" />
<text x="271.00" y="267.35" font-size="7.8" text-anchor="end" fill="#1a1a1a" stroke="#1a1a1a" stroke-width="0.14" >0.5</text>
<line x1="274.30" y1="294.60" x2="277.60" y2="294.60" stroke="#111" stroke-width="0.9" />
<text x="271.00" y="297.40" font-size="7.8" text-anchor="end" fill="#1a1a1a" stroke="#1a1a1a" stroke-width="0.14" >0.0</text>
<line x1="303.50" y1="294.60" x2="303.50" y2="297.20" stroke="#111" stroke-width="0.9" />
<line x1="343.40" y1="294.60" x2="343.40" y2="297.20" stroke="#111" stroke-width="0.9" />
<line x1="382.60" y1="294.60" x2="382.60" y2="297.20" stroke="#111" stroke-width="0.9" />
<text x="303.50" y="307.60" font-size="7.6" text-anchor="middle" fill="#1a1a1a" stroke="#1a1a1a" stroke-width="0.14" >0-1</text>
<text x="303.50" y="317.70" font-size="7.6" text-anchor="middle" fill="#1a1a1a" stroke="#1a1a1a" stroke-width="0.14" >(n=22)</text>
<text x="343.30" y="307.60" font-size="7.6" text-anchor="middle" fill="#1a1a1a" stroke="#1a1a1a" stroke-width="0.14" >2</text>
<text x="343.30" y="317.70" font-size="7.6" text-anchor="middle" fill="#1a1a1a" stroke="#1a1a1a" stroke-width="0.14" >(n=9)</text>
<text x="382.60" y="307.60" font-size="7.6" text-anchor="middle" fill="#1a1a1a" stroke="#1a1a1a" stroke-width="0.14" >3-4</text>
<text x="382.60" y="317.70" font-size="7.6" text-anchor="middle" fill="#1a1a1a" stroke="#1a1a1a" stroke-width="0.14" >(n=27)</text>
<text x="342.80" y="330.60" font-size="9.0" text-anchor="middle" fill="#1a1a1a" textLength="46.20" lengthAdjust="spacingAndGlyphs" stroke="#1a1a1a" stroke-width="0.32" >Mucositis grade</text>
<text x="255.50" y="248.40" font-size="9.0" text-anchor="middle" fill="#1a1a1a" textLength="65.60" lengthAdjust="spacingAndGlyphs" stroke="#1a1a1a" stroke-width="0.32" transform="rotate(-90 255.50 248.40)" >Distances - bray curtis</text>
<path d="M303.5,219.5 L303.5,217.7 Q303.5,216.9 304.4,216.9 L382.3,216.9 Q383.2,216.9 383.2,217.7 L383.2,219.5" fill="none" stroke="#111" stroke-width="0.9" />
<text x="343.00" y="216.30" font-size="7.0" text-anchor="middle" fill="#1a1a1a" stroke="#1a1a1a" stroke-width="0.14" >*</text>
<text x="0" y="0" font-size="10.5" font-weight="bold" fill="#000" stroke="#000" stroke-width="0.35" transform="translate(6.60 358.90) scale(1.22 1)">E</text>
<rect x="17.00" y="366.75" width="10.00" height="3.80" fill="#0a0a0a" rx="0.7"/>
<rect x="18.20" y="367.90" width="7.60" height="1.50" fill="#1C9A5A" rx="0.4"/>
<rect x="17.00" y="378.00" width="10.00" height="3.80" fill="#0a0a0a" rx="0.7"/>
<rect x="18.20" y="379.15" width="7.60" height="1.50" fill="#C01C24" rx="0.4"/>
<text x="30.00" y="370.40" font-size="5.15" text-anchor="start" fill="#151515" stroke="#151515" stroke-width="0.07" >Enriched in grade 0-1</text>
<text x="30.00" y="381.60" font-size="5.15" text-anchor="start" fill="#151515" stroke="#151515" stroke-width="0.07" >Enriched in grade 3-4</text>
<rect x="151.25" y="382.75" width="8.00" height="3.80" fill="#0a0a0a" rx="0.7"/>
<rect x="152.45" y="383.90" width="5.60" height="1.50" fill="#188C52" rx="0.4"/>
<text x="162.00" y="386.50" font-size="5.1" text-anchor="start" fill="#151515" stroke="#151515" stroke-width="0.07" >a: Unclassified_member_of_Bacteroidales</text>
<rect x="151.25" y="388.67" width="8.00" height="3.80" fill="#0a0a0a" rx="0.7"/>
<rect x="152.45" y="389.82" width="5.60" height="1.50" fill="#188C52" rx="0.4"/>
<text x="162.00" y="392.42" font-size="5.1" text-anchor="start" fill="#151515" stroke="#151515" stroke-width="0.07" >b: g_Filifactor</text>
<rect x="151.25" y="394.58" width="8.00" height="3.80" fill="#0a0a0a" rx="0.7"/>
<rect x="152.45" y="395.73" width="5.60" height="1.50" fill="#188C52" rx="0.4"/>
<text x="162.00" y="398.33" font-size="5.1" text-anchor="start" fill="#151515" stroke="#151515" stroke-width="0.07" >c: g_Selenomonas</text>
<rect x="151.25" y="400.50" width="8.00" height="3.80" fill="#0a0a0a" rx="0.7"/>
<rect x="152.45" y="401.65" width="5.60" height="1.50" fill="#188C52" rx="0.4"/>
<text x="162.00" y="404.25" font-size="5.1" text-anchor="start" fill="#151515" stroke="#151515" stroke-width="0.07" >d: Unclassified_member_of_Mogibacteriaceae</text>
<rect x="151.25" y="406.42" width="8.00" height="3.80" fill="#0a0a0a" rx="0.7"/>
<rect x="152.45" y="407.57" width="5.60" height="1.50" fill="#B01A22" rx="0.4"/>
<text x="162.00" y="410.17" font-size="5.1" text-anchor="start" fill="#151515" stroke="#151515" stroke-width="0.07" >e: g_Methylobacterium</text>
<rect x="151.25" y="412.33" width="8.00" height="3.80" fill="#0a0a0a" rx="0.7"/>
<rect x="152.45" y="413.48" width="5.60" height="1.50" fill="#B01A22" rx="0.4"/>
<text x="162.00" y="416.08" font-size="5.1" text-anchor="start" fill="#151515" stroke="#151515" stroke-width="0.07" >f : f_Methylobacteriaceae</text>
<rect x="151.25" y="418.25" width="8.00" height="3.80" fill="#0a0a0a" rx="0.7"/>
<rect x="152.45" y="419.40" width="5.60" height="1.50" fill="#B01A22" rx="0.4"/>
<text x="162.00" y="422.00" font-size="5.1" text-anchor="start" fill="#151515" stroke="#151515" stroke-width="0.07" >g: o_Rhizobiales</text>
<rect x="151.25" y="424.17" width="8.00" height="3.80" fill="#0a0a0a" rx="0.7"/>
<rect x="152.45" y="425.32" width="5.60" height="1.50" fill="#188C52" rx="0.4"/>
<text x="162.00" y="427.92" font-size="5.1" text-anchor="start" fill="#151515" stroke="#151515" stroke-width="0.07" >h: g_Brachymonas</text>
<rect x="151.25" y="430.09" width="8.00" height="3.80" fill="#0a0a0a" rx="0.7"/>
<rect x="152.45" y="431.24" width="5.60" height="1.50" fill="#188C52" rx="0.4"/>
<text x="162.00" y="433.84" font-size="5.1" text-anchor="start" fill="#151515" stroke="#151515" stroke-width="0.07" >i: f_Comamonadaceae</text>
<rect x="151.25" y="436.00" width="8.00" height="3.80" fill="#0a0a0a" rx="0.7"/>
<rect x="152.45" y="437.15" width="5.60" height="1.50" fill="#188C52" rx="0.4"/>
<text x="162.00" y="439.75" font-size="5.1" text-anchor="start" fill="#151515" stroke="#151515" stroke-width="0.07" >j : g_Eikenella</text>
<rect x="151.25" y="441.92" width="8.00" height="3.80" fill="#0a0a0a" rx="0.7"/>
<rect x="152.45" y="443.07" width="5.60" height="1.50" fill="#188C52" rx="0.4"/>
<text x="162.00" y="445.67" font-size="5.1" text-anchor="start" fill="#151515" stroke="#151515" stroke-width="0.07" >k: g_Treponema</text>
<rect x="151.25" y="447.84" width="8.00" height="3.80" fill="#0a0a0a" rx="0.7"/>
<rect x="152.45" y="448.99" width="5.60" height="1.50" fill="#188C52" rx="0.4"/>
<text x="162.00" y="451.59" font-size="5.1" text-anchor="start" fill="#151515" stroke="#151515" stroke-width="0.07" >l: f_Spirochaetaceae</text>
<rect x="151.25" y="453.75" width="8.00" height="3.80" fill="#0a0a0a" rx="0.7"/>
<rect x="152.45" y="454.90" width="5.60" height="1.50" fill="#188C52" rx="0.4"/>
<text x="162.00" y="457.50" font-size="5.1" text-anchor="start" fill="#151515" stroke="#151515" stroke-width="0.07" >m: o_Spirochaetales</text>
<rect x="151.25" y="459.67" width="8.00" height="3.80" fill="#0a0a0a" rx="0.7"/>
<rect x="152.45" y="460.82" width="5.60" height="1.50" fill="#188C52" rx="0.4"/>
<text x="162.00" y="463.42" font-size="5.1" text-anchor="start" fill="#151515" stroke="#151515" stroke-width="0.07" >n: g_TG5</text>
<rect x="151.25" y="465.59" width="8.00" height="3.80" fill="#0a0a0a" rx="0.7"/>
<rect x="152.45" y="466.74" width="5.60" height="1.50" fill="#188C52" rx="0.4"/>
<text x="162.00" y="469.34" font-size="5.1" text-anchor="start" fill="#151515" stroke="#151515" stroke-width="0.07" >o: f_Dethiosulfovibrionaceae</text>
<rect x="151.25" y="471.50" width="8.00" height="3.80" fill="#0a0a0a" rx="0.7"/>
<rect x="152.45" y="472.65" width="5.60" height="1.50" fill="#188C52" rx="0.4"/>
<text x="162.00" y="475.25" font-size="5.1" text-anchor="start" fill="#151515" stroke="#151515" stroke-width="0.07" >p: o_Synergistales</text>
<path d="M89.48,452.99 L139.36,477.32 A73.50,73.50 0 0 1 123.89,498.42 L85.69,458.16 A18.00,18.00 0 0 0 89.48,452.99Z" fill="#2C9C62" fill-opacity="0.32" />
<path d="M97.42,457.23 L138.96,478.12 A73.50,73.50 0 0 1 132.76,488.30 L95.14,460.97 A27.00,27.00 0 0 0 97.42,457.23Z" fill="#2C9C62" fill-opacity="0.28" />
<path d="M95.14,460.97 L132.76,488.30 A73.50,73.50 0 0 1 124.54,497.79 L92.12,464.46 A27.00,27.00 0 0 0 95.14,460.97Z" fill="#2C9C62" fill-opacity="0.28" />
<path d="M100.82,459.37 L122.57,470.64 A55.50,55.50 0 0 1 118.65,477.09 L98.63,462.97 A31.00,31.00 0 0 0 100.82,459.37Z" fill="#2C9C62" fill-opacity="0.42" />
<path d="M98.12,463.67 L117.74,478.35 A55.50,55.50 0 0 1 112.54,484.34 L95.22,467.02 A31.00,31.00 0 0 0 98.12,463.67Z" fill="#2C9C62" fill-opacity="0.42" />
<path d="M139.36,477.32 L146.28,480.70 A81.20,81.20 0 0 1 129.19,504.00 L123.89,498.42 A73.50,73.50 0 0 0 139.36,477.32Z" fill="#2C9C62" fill-opacity="0.26" />
<path d="M146.89,479.42 L151.24,481.45 A86.00,86.00 0 0 1 131.40,508.51 L128.16,504.97 A81.20,81.20 0 0 0 146.89,479.42Z" fill="#2C9C62" fill-opacity="0.06" />
<path d="M123.18,469.43 A55.50,55.50 0 0 1 111.50,485.36" fill="none" stroke="#1E7F4E" stroke-width="0.4" stroke-opacity="0.35"/>
<path d="M128.58,472.06 A61.50,61.50 0 0 1 115.63,489.71" fill="none" stroke="#1E7F4E" stroke-width="0.4" stroke-opacity="0.35"/>
<path d="M133.97,474.69 A67.50,67.50 0 0 1 119.76,494.06" fill="none" stroke="#1E7F4E" stroke-width="0.4" stroke-opacity="0.35"/>
<line x1="89.48" y1="456.86" x2="132.76" y2="488.30" stroke="#1E7F4E" stroke-width="0.45" stroke-opacity="0.55"/>
<polygon points="61.89,469.61 43.33,509.01 50.00,511.73 64.30,470.59" fill="#C8283C" fill-opacity="0.22"/>
<polygon points="58.12,477.79 42.68,508.75 50.64,512.00 61.27,479.07" fill="#C8283C" fill-opacity="0.18"/>
<polygon points="54.45,486.01 42.13,508.52 51.20,512.23 58.15,487.52" fill="#C8283C" fill-opacity="0.16"/>
<line x1="47.82" y1="499.07" x2="53.74" y2="501.49" stroke="#fff" stroke-width="0.35" stroke-opacity="0.7"/>
<line x1="44.98" y1="503.75" x2="52.50" y2="506.82" stroke="#fff" stroke-width="0.35" stroke-opacity="0.7"/>
<polygon points="109.68,415.97 123.69,403.13 119.50,398.56 105.49,411.40" fill="#2C9C62" fill-opacity="0.22"/>
<polygon points="17.17,438.49 13.19,438.11 12.95,440.70 16.93,441.08" fill="#2C9C62" fill-opacity="0.16"/>
<polygon points="21.66,468.07 18.05,469.78 19.16,472.13 22.77,470.42" fill="#2C9C62" fill-opacity="0.16"/>
<polygon points="24.55,473.68 21.14,475.78 22.51,478.00 25.91,475.90" fill="#2C9C62" fill-opacity="0.16"/>
<polygon points="64.46,488.81 61.58,510.12 67.33,510.89 70.21,489.59" fill="#2C9C62" fill-opacity="0.24"/>
<polygon points="72.88,501.12 72.96,505.62 75.96,505.56 75.87,501.06" fill="#2C9C62" fill-opacity="0.2"/>
<text x="140.90" y="478.51" font-size="2.8" text-anchor="middle" fill="#2F7F58" fill-opacity="0.9" transform="rotate(296.3 140.90 478.51)" textLength="19" lengthAdjust="spacingAndGlyphs">o: f_Dethiosulfovibrionac</text>
<text x="144.37" y="482.26" font-size="2.8" text-anchor="middle" fill="#2F7F58" fill-opacity="0.9" transform="rotate(297.6 144.37 482.26)" textLength="19.5" lengthAdjust="spacingAndGlyphs">p: o_Synergistales_TG5</text>
<text x="124.29" y="498.45" font-size="2.8" text-anchor="middle" fill="#2F7F58" fill-opacity="0.9" transform="rotate(316.3 124.29 498.45)" textLength="20.5" lengthAdjust="spacingAndGlyphs">l: f_Spirochaetaceae_Trep</text>
<text x="130.76" y="501.76" font-size="2.8" text-anchor="middle" fill="#2F7F58" fill-opacity="0.9" transform="rotate(314.6 130.76 501.76)" textLength="22" lengthAdjust="spacingAndGlyphs">m: o_Spirochaetales_Spiroc</text>
<text x="45.57" y="513.06" font-size="3.0" text-anchor="middle" fill="#DC2A64" fill-opacity="1.0" transform="rotate(382.2 45.57 513.06)" textLength="30" lengthAdjust="spacingAndGlyphs">e: g_Methylobacterium_f_Methylobact</text>
<text x="44.13" y="516.58" font-size="2.2" text-anchor="middle" fill="#E88AA8" fill-opacity="0.8" transform="rotate(382.2 44.13 516.58)" textLength="9" lengthAdjust="spacingAndGlyphs">g: o_Rhizobiales</text>
<path d="M88.68,454.64 A18.10,18.10 0 1 1 90.20,438.61" fill="none" stroke="#000" stroke-width="2.0" stroke-linecap="round"/>
<path d="M64.20,445.10 L55.20,445.10" fill="none" stroke="#000" stroke-width="1.5" stroke-linecap="round"/>
<path d="M111.95,468.14 L118.72,474.49" fill="none" stroke="#000" stroke-width="0.6" stroke-linecap="round"/>
<path d="M85.53,458.44 L91.75,464.81" fill="none" stroke="#000" stroke-width="0.9" stroke-linecap="round"/>
<path d="M87.25,468.22 A27.00,27.00 0 0 1 63.19,470.13" fill="none" stroke="#000" stroke-width="1.9" stroke-linecap="round"/>
<path d="M76.01,463.00 L77.34,471.80" fill="none" stroke="#000" stroke-width="1.0" stroke-linecap="round"/>
<path d="M94.61,474.11 A36.00,36.00 0 0 1 87.54,478.16" fill="none" stroke="#000" stroke-width="1.8" stroke-linecap="round"/>
<path d="M87.25,468.22 L91.90,475.93" fill="none" stroke="#000" stroke-width="0.85" stroke-linecap="round"/>
<path d="M94.61,474.11 L99.43,481.74" fill="none" stroke="#000" stroke-width="0.75" stroke-linecap="round"/>
<path d="M99.43,481.74 L106.46,487.85" fill="none" stroke="#000" stroke-width="0.6" stroke-linecap="round"/>
<path d="M99.43,481.74 L104.33,489.42" fill="none" stroke="#000" stroke-width="0.6" stroke-linecap="round"/>
<path d="M90.48,476.74 L94.84,484.61" fill="none" stroke="#000" stroke-width="0.75" stroke-linecap="round"/>
<path d="M94.84,484.61 L98.95,492.73" fill="none" stroke="#000" stroke-width="0.6" stroke-linecap="round"/>
<path d="M87.54,478.16 L90.96,486.49" fill="none" stroke="#000" stroke-width="0.75" stroke-linecap="round"/>
<path d="M90.96,486.49 L94.53,494.86" fill="none" stroke="#000" stroke-width="0.6" stroke-linecap="round"/>
<path d="M84.07,479.45 A36.00,36.00 0 0 1 80.23,480.43" fill="none" stroke="#000" stroke-width="1.8" stroke-linecap="round"/>
<path d="M81.28,470.89 L83.95,479.49" fill="none" stroke="#000" stroke-width="0.85" stroke-linecap="round"/>
<path d="M84.07,479.45 L86.53,488.11" fill="none" stroke="#000" stroke-width="0.75" stroke-linecap="round"/>
<path d="M86.53,488.11 L89.03,496.86" fill="none" stroke="#000" stroke-width="0.6" stroke-linecap="round"/>
<path d="M80.23,480.43 L81.81,489.29" fill="none" stroke="#000" stroke-width="0.75" stroke-linecap="round"/>
<path d="M81.81,489.29 L83.81,498.17" fill="none" stroke="#000" stroke-width="0.6" stroke-linecap="round"/>
<path d="M74.93,481.06 A36.00,36.00 0 0 1 66.80,480.51" fill="none" stroke="#000" stroke-width="1.8" stroke-linecap="round"/>
<path d="M71.56,472.04 L70.98,481.02" fill="none" stroke="#000" stroke-width="0.85" stroke-linecap="round"/>
<path d="M74.93,481.06 L74.95,490.07" fill="none" stroke="#000" stroke-width="0.75" stroke-linecap="round"/>
<path d="M74.95,490.07 L71.79,499.18" fill="none" stroke="#000" stroke-width="0.66" stroke-linecap="round"/>
<path d="M74.95,490.07 L74.34,499.19" fill="none" stroke="#000" stroke-width="0.66" stroke-linecap="round"/>
<path d="M74.95,490.07 L77.45,499.04" fill="none" stroke="#000" stroke-width="0.66" stroke-linecap="round"/>
<path d="M74.95,490.07 L79.61,498.83" fill="none" stroke="#000" stroke-width="0.66" stroke-linecap="round"/>
<path d="M67.04,489.66 A45.00,45.00 0 0 1 61.27,488.46" fill="none" stroke="#000" stroke-width="1.85" stroke-linecap="round"/>
<path d="M66.80,480.51 L65.18,489.36" fill="none" stroke="#000" stroke-width="0.85" stroke-linecap="round"/>
<path d="M64.33,489.20 L62.98,498.21" fill="none" stroke="#000" stroke-width="0.6" stroke-linecap="round"/>
<path d="M61.27,488.46 L58.57,497.16" fill="none" stroke="#000" stroke-width="0.6" stroke-linecap="round"/>
<path d="M64.25,460.78 L59.60,468.36" fill="none" stroke="#000" stroke-width="0.9" stroke-linecap="round"/>
<path d="M59.60,468.36 L54.97,476.09" fill="none" stroke="#000" stroke-width="0.9" stroke-linecap="round"/>
<path d="M51.21,484.30 A45.00,45.00 0 0 1 47.10,481.69" fill="none" stroke="#000" stroke-width="1.85" stroke-linecap="round"/>
<path d="M54.97,476.09 L50.39,483.83" fill="none" stroke="#000" stroke-width="0.85" stroke-linecap="round"/>
<path d="M51.21,484.30 L48.57,493.22" fill="none" stroke="#000" stroke-width="0.6" stroke-linecap="round"/>
<path d="M51.21,484.30 L46.17,491.90" fill="none" stroke="#000" stroke-width="0.6" stroke-linecap="round"/>
<path d="M47.10,481.69 L41.96,489.20" fill="none" stroke="#000" stroke-width="0.6" stroke-linecap="round"/>
<path d="M55.41,465.32 A27.00,27.00 0 0 1 59.39,421.96" fill="none" stroke="#000" stroke-width="1.9" stroke-linecap="round"/>
<path d="M55.74,440.72 L47.10,438.57" fill="none" stroke="#000" stroke-width="1.0" stroke-linecap="round"/>
<path d="M52.65,415.61 A36.00,36.00 0 0 1 66.86,409.68" fill="none" stroke="#000" stroke-width="1.8" stroke-linecap="round"/>
<path d="M59.39,421.96 L54.76,414.24" fill="none" stroke="#000" stroke-width="0.85" stroke-linecap="round"/>
<path d="M40.07,414.76 A45.00,45.00 0 0 1 57.39,403.01" fill="none" stroke="#000" stroke-width="1.85" stroke-linecap="round"/>
<path d="M52.65,415.61 L47.49,408.24" fill="none" stroke="#000" stroke-width="0.85" stroke-linecap="round"/>
<path d="M40.07,414.76 L32.16,409.96" fill="none" stroke="#000" stroke-width="0.6" stroke-linecap="round"/>
<path d="M40.07,414.76 L33.86,408.07" fill="none" stroke="#000" stroke-width="0.6" stroke-linecap="round"/>
<path d="M43.54,411.35 L37.66,404.39" fill="none" stroke="#000" stroke-width="0.6" stroke-linecap="round"/>
<path d="M45.84,409.45 L40.82,401.84" fill="none" stroke="#000" stroke-width="0.6" stroke-linecap="round"/>
<path d="M48.66,407.45 L43.99,399.63" fill="none" stroke="#000" stroke-width="0.6" stroke-linecap="round"/>
<path d="M51.41,405.78 L47.49,397.56" fill="none" stroke="#000" stroke-width="0.6" stroke-linecap="round"/>
<path d="M54.28,404.32 L50.61,395.99" fill="none" stroke="#000" stroke-width="0.6" stroke-linecap="round"/>
<path d="M63.80,410.38 L61.35,401.72" fill="none" stroke="#000" stroke-width="0.75" stroke-linecap="round"/>
<path d="M61.35,401.72 L59.02,392.92" fill="none" stroke="#000" stroke-width="0.6" stroke-linecap="round"/>
<path d="M66.86,409.68 L65.33,400.81" fill="none" stroke="#000" stroke-width="0.75" stroke-linecap="round"/>
<path d="M65.33,400.81 L63.72,391.86" fill="none" stroke="#000" stroke-width="0.6" stroke-linecap="round"/>
<path d="M46.32,446.23 L37.34,446.86" fill="none" stroke="#000" stroke-width="0.9" stroke-linecap="round"/>
<path d="M38.38,473.48 A45.00,45.00 0 0 1 36.94,418.59" fill="none" stroke="#000" stroke-width="1.85" stroke-linecap="round"/>
<path d="M37.34,446.86 L28.35,447.30" fill="none" stroke="#000" stroke-width="0.85" stroke-linecap="round"/>
<path d="M35.10,421.32 L27.52,416.27" fill="none" stroke="#000" stroke-width="0.6" stroke-linecap="round"/>
<path d="M31.01,429.71 L25.05,420.62" fill="none" stroke="#000" stroke-width="0.66" stroke-linecap="round"/>
<path d="M31.01,429.71 L24.18,422.43" fill="none" stroke="#000" stroke-width="0.66" stroke-linecap="round"/>
<path d="M31.01,429.71 L23.37,424.27" fill="none" stroke="#000" stroke-width="0.66" stroke-linecap="round"/>
<path d="M31.01,429.71 L22.63,426.14" fill="none" stroke="#000" stroke-width="0.66" stroke-linecap="round"/>
<path d="M31.01,429.71 L21.96,428.04" fill="none" stroke="#000" stroke-width="0.66" stroke-linecap="round"/>
<path d="M31.01,429.71 L21.36,429.96" fill="none" stroke="#000" stroke-width="0.66" stroke-linecap="round"/>
<path d="M31.01,429.71 L20.83,431.90" fill="none" stroke="#000" stroke-width="0.66" stroke-linecap="round"/>
<path d="M31.01,429.71 L20.38,433.86" fill="none" stroke="#000" stroke-width="0.66" stroke-linecap="round"/>
<path d="M28.52,440.63 L19.75,437.38" fill="none" stroke="#000" stroke-width="0.6" stroke-linecap="round"/>
<path d="M28.52,440.63 L19.44,440.01" fill="none" stroke="#000" stroke-width="0.6" stroke-linecap="round"/>
<path d="M28.52,440.63 L19.26,442.65" fill="none" stroke="#000" stroke-width="0.6" stroke-linecap="round"/>
<path d="M28.44,448.71 L19.20,445.57" fill="none" stroke="#000" stroke-width="0.66" stroke-linecap="round"/>
<path d="M28.44,448.71 L19.25,447.46" fill="none" stroke="#000" stroke-width="0.66" stroke-linecap="round"/>
<path d="M28.44,448.71 L19.37,449.34" fill="none" stroke="#000" stroke-width="0.66" stroke-linecap="round"/>
<path d="M28.44,448.71 L19.55,451.22" fill="none" stroke="#000" stroke-width="0.66" stroke-linecap="round"/>
<path d="M28.44,448.71 L19.78,453.00" fill="none" stroke="#000" stroke-width="0.66" stroke-linecap="round"/>
<path d="M30.83,459.97 L20.50,456.90" fill="none" stroke="#000" stroke-width="0.66" stroke-linecap="round"/>
<path d="M30.83,459.97 L20.98,458.86" fill="none" stroke="#000" stroke-width="0.66" stroke-linecap="round"/>
<path d="M30.83,459.97 L21.53,460.79" fill="none" stroke="#000" stroke-width="0.66" stroke-linecap="round"/>
<path d="M30.83,459.97 L22.14,462.70" fill="none" stroke="#000" stroke-width="0.66" stroke-linecap="round"/>
<path d="M30.83,459.97 L22.83,464.59" fill="none" stroke="#000" stroke-width="0.66" stroke-linecap="round"/>
<path d="M30.83,459.97 L23.59,466.46" fill="none" stroke="#000" stroke-width="0.66" stroke-linecap="round"/>
<path d="M30.83,459.97 L24.42,468.29" fill="none" stroke="#000" stroke-width="0.66" stroke-linecap="round"/>
<path d="M30.83,459.97 L25.32,470.09" fill="none" stroke="#000" stroke-width="0.66" stroke-linecap="round"/>
<path d="M35.56,469.61 L27.27,473.53" fill="none" stroke="#000" stroke-width="0.6" stroke-linecap="round"/>
<path d="M35.56,469.61 L28.77,475.82" fill="none" stroke="#000" stroke-width="0.6" stroke-linecap="round"/>
<path d="M38.38,473.48 L31.26,479.15" fill="none" stroke="#000" stroke-width="0.6" stroke-linecap="round"/>
<path d="M38.38,473.48 L32.47,480.59" fill="none" stroke="#000" stroke-width="0.6" stroke-linecap="round"/>
<path d="M55.41,465.32 L49.26,471.90" fill="none" stroke="#000" stroke-width="0.9" stroke-linecap="round"/>
<path d="M49.26,471.90 L42.90,478.28" fill="none" stroke="#000" stroke-width="0.75" stroke-linecap="round"/>
<path d="M42.90,478.28 L36.27,484.54" fill="none" stroke="#000" stroke-width="0.6" stroke-linecap="round"/>
<path d="M42.90,478.28 L37.95,486.05" fill="none" stroke="#000" stroke-width="0.6" stroke-linecap="round"/>
<path d="M72.04,427.04 L71.18,418.18" fill="none" stroke="#000" stroke-width="0.9" stroke-linecap="round"/>
<path d="M71.18,418.18 L71.23,409.16" fill="none" stroke="#000" stroke-width="0.9" stroke-linecap="round"/>
<path d="M71.23,409.16 L70.55,400.18" fill="none" stroke="#000" stroke-width="0.75" stroke-linecap="round"/>
<path d="M70.55,400.18 L69.90,391.11" fill="none" stroke="#000" stroke-width="0.6" stroke-linecap="round"/>
<path d="M74.90,418.15 A27.00,27.00 0 0 1 85.98,421.26" fill="none" stroke="#000" stroke-width="1.9" stroke-linecap="round"/>
<path d="M80.23,428.38 L83.63,420.16" fill="none" stroke="#000" stroke-width="1.0" stroke-linecap="round"/>
<path d="M74.90,418.15 L75.50,409.17" fill="none" stroke="#000" stroke-width="0.9" stroke-linecap="round"/>
<path d="M75.42,400.15 A45.00,45.00 0 0 1 78.86,400.45" fill="none" stroke="#000" stroke-width="1.85" stroke-linecap="round"/>
<path d="M75.50,409.17 L76.05,400.18" fill="none" stroke="#000" stroke-width="0.85" stroke-linecap="round"/>
<path d="M75.42,400.15 L75.75,391.06" fill="none" stroke="#000" stroke-width="0.6" stroke-linecap="round"/>
<path d="M78.86,400.45 L79.80,391.39" fill="none" stroke="#000" stroke-width="0.6" stroke-linecap="round"/>
<path d="M85.98,421.26 L90.37,413.40" fill="none" stroke="#000" stroke-width="0.9" stroke-linecap="round"/>
<path d="M83.19,401.20 A45.00,45.00 0 0 1 106.48,414.70" fill="none" stroke="#000" stroke-width="1.85" stroke-linecap="round"/>
<path d="M90.37,413.40 L94.63,405.48" fill="none" stroke="#000" stroke-width="0.85" stroke-linecap="round"/>
<path d="M83.19,401.20 L85.47,392.39" fill="none" stroke="#000" stroke-width="0.6" stroke-linecap="round"/>
<path d="M86.61,402.11 L87.94,393.02" fill="none" stroke="#000" stroke-width="0.6" stroke-linecap="round"/>
<path d="M86.61,402.11 L90.20,393.71" fill="none" stroke="#000" stroke-width="0.6" stroke-linecap="round"/>
<path d="M91.03,403.74 L94.79,395.45" fill="none" stroke="#000" stroke-width="0.6" stroke-linecap="round"/>
<path d="M94.01,405.15 L98.45,397.20" fill="none" stroke="#000" stroke-width="0.6" stroke-linecap="round"/>
<path d="M98.85,408.06 L100.76,398.49" fill="none" stroke="#000" stroke-width="0.66" stroke-linecap="round"/>
<path d="M98.85,408.06 L102.76,399.73" fill="none" stroke="#000" stroke-width="0.66" stroke-linecap="round"/>
<path d="M98.85,408.06 L104.56,400.95" fill="none" stroke="#000" stroke-width="0.66" stroke-linecap="round"/>
<path d="M98.85,408.06 L106.46,402.35" fill="none" stroke="#000" stroke-width="0.66" stroke-linecap="round"/>
<path d="M104.16,412.35 L110.27,405.60" fill="none" stroke="#000" stroke-width="0.6" stroke-linecap="round"/>
<path d="M95.28,429.42 A27.00,27.00 0 0 1 99.38,438.11" fill="none" stroke="#000" stroke-width="1.9" stroke-linecap="round"/>
<path d="M90.20,438.61 L98.51,435.42" fill="none" stroke="#000" stroke-width="1.0" stroke-linecap="round"/>
<path d="M95.28,429.42 L102.79,424.45" fill="none" stroke="#000" stroke-width="0.9" stroke-linecap="round"/>
<path d="M102.79,424.45 L110.52,419.81" fill="none" stroke="#000" stroke-width="0.75" stroke-linecap="round"/>
<path d="M110.52,419.81 L116.22,412.17" fill="none" stroke="#000" stroke-width="0.66" stroke-linecap="round"/>
<path d="M110.52,419.81 L117.40,413.76" fill="none" stroke="#000" stroke-width="0.66" stroke-linecap="round"/>
<path d="M110.52,419.81 L118.41,415.24" fill="none" stroke="#000" stroke-width="0.66" stroke-linecap="round"/>
<path d="M110.52,419.81 L119.28,416.59" fill="none" stroke="#000" stroke-width="0.66" stroke-linecap="round"/>
<path d="M106.56,431.32 A36.00,36.00 0 0 1 108.86,439.47" fill="none" stroke="#000" stroke-width="1.8" stroke-linecap="round"/>
<path d="M99.38,438.11 L108.07,435.78" fill="none" stroke="#000" stroke-width="0.85" stroke-linecap="round"/>
<path d="M106.56,431.32 L115.02,428.24" fill="none" stroke="#000" stroke-width="0.75" stroke-linecap="round"/>
<path d="M115.02,428.24 L121.76,421.05" fill="none" stroke="#000" stroke-width="0.66" stroke-linecap="round"/>
<path d="M115.02,428.24 L122.95,423.61" fill="none" stroke="#000" stroke-width="0.66" stroke-linecap="round"/>
<path d="M115.02,428.24 L123.74,425.54" fill="none" stroke="#000" stroke-width="0.66" stroke-linecap="round"/>
<path d="M115.02,428.24 L124.63,428.02" fill="none" stroke="#000" stroke-width="0.66" stroke-linecap="round"/>
<path d="M117.27,435.51 A45.00,45.00 0 0 1 118.20,442.12" fill="none" stroke="#000" stroke-width="1.85" stroke-linecap="round"/>
<path d="M108.86,439.47 L117.75,438.06" fill="none" stroke="#000" stroke-width="0.85" stroke-linecap="round"/>
<path d="M117.27,435.51 L126.16,433.58" fill="none" stroke="#000" stroke-width="0.6" stroke-linecap="round"/>
<path d="M117.86,438.84 L126.83,437.29" fill="none" stroke="#000" stroke-width="0.6" stroke-linecap="round"/>
<path d="M117.86,438.84 L127.14,439.82" fill="none" stroke="#000" stroke-width="0.6" stroke-linecap="round"/>
<path d="M118.20,442.12 L127.33,442.36" fill="none" stroke="#000" stroke-width="0.6" stroke-linecap="round"/>
<path d="M91.31,446.90 L100.13,448.11" fill="none" stroke="#000" stroke-width="0.9" stroke-linecap="round"/>
<path d="M100.13,448.11 L109.10,448.93" fill="none" stroke="#000" stroke-width="0.9" stroke-linecap="round"/>
<path d="M109.10,448.93 L118.04,449.96" fill="none" stroke="#000" stroke-width="0.75" stroke-linecap="round"/>
<path d="M118.04,449.96 L127.07,451.04" fill="none" stroke="#000" stroke-width="0.6" stroke-linecap="round"/>
<path d="M90.86,449.48 L99.64,451.04" fill="none" stroke="#000" stroke-width="0.9" stroke-linecap="round"/>
<path d="M99.64,451.04 L108.38,453.20" fill="none" stroke="#000" stroke-width="0.9" stroke-linecap="round"/>
<path d="M108.38,453.20 L117.18,455.07" fill="none" stroke="#000" stroke-width="0.75" stroke-linecap="round"/>
<path d="M117.18,455.07 L126.03,457.18" fill="none" stroke="#000" stroke-width="0.6" stroke-linecap="round"/>
<path d="M90.24,451.47 L98.64,454.42" fill="none" stroke="#000" stroke-width="0.9" stroke-linecap="round"/>
<path d="M98.64,454.42 L107.15,457.35" fill="none" stroke="#000" stroke-width="0.9" stroke-linecap="round"/>
<path d="M107.15,457.35 L115.75,460.05" fill="none" stroke="#000" stroke-width="0.75" stroke-linecap="round"/>
<line x1="88.68" y1="454.64" x2="96.37" y2="459.13" stroke="#06160C" stroke-width="2.9" stroke-linecap="round"/>
<line x1="96.37" y1="459.13" x2="104.16" y2="463.64" stroke="#06160C" stroke-width="2.9" stroke-linecap="round"/>
<line x1="104.16" y1="463.64" x2="111.95" y2="468.14" stroke="#06160C" stroke-width="2.9" stroke-linecap="round"/>
<line x1="111.95" y1="468.14" x2="119.96" y2="472.48" stroke="#06160C" stroke-width="2.9" stroke-linecap="round"/>
<line x1="86.84" y1="457.12" x2="93.62" y2="462.88" stroke="#06160C" stroke-width="2.9" stroke-linecap="round"/>
<line x1="93.62" y1="462.88" x2="100.55" y2="468.62" stroke="#06160C" stroke-width="2.9" stroke-linecap="round"/>
<line x1="100.55" y1="468.62" x2="107.47" y2="474.38" stroke="#06160C" stroke-width="2.9" stroke-linecap="round"/>
<line x1="107.47" y1="474.38" x2="114.38" y2="480.31" stroke="#06160C" stroke-width="2.9" stroke-linecap="round"/>
<line x1="67.04" y1="489.66" x2="66.71" y2="498.80" stroke="#06160C" stroke-width="2.9" stroke-linecap="round"/>
<line x1="63.19" y1="470.13" x2="59.81" y2="478.48" stroke="#06160C" stroke-width="2.9" stroke-linecap="round"/>
<line x1="59.81" y1="478.48" x2="56.44" y2="486.82" stroke="#06160C" stroke-width="2.9" stroke-linecap="round"/>
<line x1="56.44" y1="486.82" x2="53.03" y2="495.26" stroke="#06160C" stroke-width="2.9" stroke-linecap="round"/>
<line x1="88.68" y1="454.64" x2="96.37" y2="459.13" stroke="#27A663" stroke-width="1.8" stroke-dasharray="0 1.00 2.95 1.00 2.95 1.00"/>
<line x1="96.37" y1="459.13" x2="104.16" y2="463.64" stroke="#27A663" stroke-width="1.8" stroke-dasharray="0 1.00 3.00 1.00 3.00 1.00"/>
<line x1="104.16" y1="463.64" x2="111.95" y2="468.14" stroke="#27A663" stroke-width="1.8" stroke-dasharray="0 1.00 3.00 1.00 3.00 1.00"/>
<line x1="111.95" y1="468.14" x2="119.96" y2="472.48" stroke="#27A663" stroke-width="1.8" stroke-dasharray="0 1.00 3.05 1.00 3.05 1.00"/>
<line x1="86.84" y1="457.12" x2="93.62" y2="462.88" stroke="#27A663" stroke-width="1.8" stroke-dasharray="0 1.00 2.95 1.00 2.95 1.00"/>
<line x1="93.62" y1="462.88" x2="100.55" y2="468.62" stroke="#27A663" stroke-width="1.8" stroke-dasharray="0 1.00 3.00 1.00 3.00 1.00"/>
<line x1="100.55" y1="468.62" x2="107.47" y2="474.38" stroke="#27A663" stroke-width="1.8" stroke-dasharray="0 1.00 3.00 1.00 3.00 1.00"/>
<line x1="107.47" y1="474.38" x2="114.38" y2="480.31" stroke="#27A663" stroke-width="1.8" stroke-dasharray="0 1.00 3.05 1.00 3.05 1.00"/>
<line x1="67.04" y1="489.66" x2="66.71" y2="498.80" stroke="#27A663" stroke-width="1.8" stroke-dasharray="0 1.00 3.07 1.00 3.07 1.00"/>
<line x1="63.19" y1="470.13" x2="59.81" y2="478.48" stroke="#D0222C" stroke-width="1.8" stroke-dasharray="0 0.55 3.67 0.55 3.67 0.55"/>
<line x1="59.81" y1="478.48" x2="56.44" y2="486.82" stroke="#D0222C" stroke-width="1.8" stroke-dasharray="0 0.55 3.67 0.55 3.67 0.55"/>
<line x1="56.44" y1="486.82" x2="53.03" y2="495.26" stroke="#D0222C" stroke-width="1.8" stroke-dasharray="0 0.55 3.73 0.55 3.73 0.55"/>
<circle cx="73.30" cy="445.10" r="0.45" fill="#9A9A20"/>
<circle cx="64.20" cy="445.10" r="2.20" fill="#D6D200" stroke="#161600" stroke-width="0.42"/>
<circle cx="88.68" cy="454.64" r="0.8" fill="#0F6B40" stroke="#06160C" stroke-width="0.5"/>
<circle cx="96.37" cy="459.13" r="0.8" fill="#0F6B40" stroke="#06160C" stroke-width="0.5"/>
<circle cx="104.16" cy="463.64" r="0.8" fill="#0F6B40" stroke="#06160C" stroke-width="0.5"/>
<circle cx="111.95" cy="468.14" r="0.8" fill="#0F6B40" stroke="#06160C" stroke-width="0.5"/>
<circle cx="119.96" cy="472.48" r="0.8" fill="#0F6B40" stroke="#06160C" stroke-width="0.5"/>
<circle cx="118.72" cy="474.49" r="1.00" fill="#D6D200" stroke="#161600" stroke-width="0.42"/>
<circle cx="86.84" cy="457.12" r="0.8" fill="#0F6B40" stroke="#06160C" stroke-width="0.5"/>
<circle cx="93.62" cy="462.88" r="0.8" fill="#0F6B40" stroke="#06160C" stroke-width="0.5"/>
<circle cx="100.55" cy="468.62" r="0.8" fill="#0F6B40" stroke="#06160C" stroke-width="0.5"/>
<circle cx="107.47" cy="474.38" r="0.8" fill="#0F6B40" stroke="#06160C" stroke-width="0.5"/>
<circle cx="114.38" cy="480.31" r="0.8" fill="#0F6B40" stroke="#06160C" stroke-width="0.5"/>
<circle cx="85.53" cy="458.44" r="1.20" fill="#D6D200" stroke="#161600" stroke-width="0.42"/>
<circle cx="91.75" cy="464.81" r="0.90" fill="#D6D200" stroke="#161600" stroke-width="0.42"/>
<circle cx="76.01" cy="463.00" r="1.90" fill="#D6D200" stroke="#161600" stroke-width="0.42"/>
<circle cx="87.25" cy="468.22" r="1.70" fill="#D6D200" stroke="#161600" stroke-width="0.42"/>
<circle cx="94.61" cy="474.11" r="1.40" fill="#D6D200" stroke="#161600" stroke-width="0.42"/>
<circle cx="99.43" cy="481.74" r="1.60" fill="#D6D200" stroke="#161600" stroke-width="0.42"/>
<circle cx="106.46" cy="487.85" r="1.30" fill="#D6D200" stroke="#161600" stroke-width="0.42"/>
<circle cx="104.33" cy="489.42" r="1.30" fill="#D6D200" stroke="#161600" stroke-width="0.42"/>
<circle cx="90.48" cy="476.74" r="1.20" fill="#D6D200" stroke="#161600" stroke-width="0.42"/>
<circle cx="94.84" cy="484.61" r="1.30" fill="#D6D200" stroke="#161600" stroke-width="0.42"/>
<circle cx="98.95" cy="492.73" r="1.40" fill="#D6D200" stroke="#161600" stroke-width="0.42"/>
<circle cx="87.54" cy="478.16" r="1.00" fill="#D6D200" stroke="#161600" stroke-width="0.42"/>
<circle cx="90.96" cy="486.49" r="1.20" fill="#D6D200" stroke="#161600" stroke-width="0.42"/>
<circle cx="94.53" cy="494.86" r="1.40" fill="#D6D200" stroke="#161600" stroke-width="0.42"/>
<circle cx="81.28" cy="470.89" r="1.50" fill="#D6D200" stroke="#161600" stroke-width="0.42"/>
<circle cx="84.07" cy="479.45" r="1.40" fill="#D6D200" stroke="#161600" stroke-width="0.42"/>
<circle cx="86.53" cy="488.11" r="1.40" fill="#D6D200" stroke="#161600" stroke-width="0.42"/>
<circle cx="89.03" cy="496.86" r="1.60" fill="#D6D200" stroke="#161600" stroke-width="0.42"/>
<circle cx="80.23" cy="480.43" r="0.80" fill="#D6D200" stroke="#161600" stroke-width="0.42"/>
<circle cx="81.81" cy="489.29" r="0.90" fill="#D6D200" stroke="#161600" stroke-width="0.42"/>
<circle cx="83.81" cy="498.17" r="1.00" fill="#D6D200" stroke="#161600" stroke-width="0.42"/>
<circle cx="71.56" cy="472.04" r="1.60" fill="#D6D200" stroke="#161600" stroke-width="0.42"/>
<circle cx="74.93" cy="481.06" r="1.50" fill="#D6D200" stroke="#161600" stroke-width="0.42"/>
<circle cx="74.95" cy="490.07" r="1.60" fill="#D6D200" stroke="#161600" stroke-width="0.42"/>
<circle cx="71.79" cy="499.18" r="1.30" fill="#D6D200" stroke="#161600" stroke-width="0.42"/>
<circle cx="74.34" cy="499.19" r="1.30" fill="#0F6B40" stroke="#161600" stroke-width="0.42"/>
<circle cx="77.45" cy="499.04" r="1.30" fill="#D6D200" stroke="#161600" stroke-width="0.42"/>
<circle cx="79.61" cy="498.83" r="1.30" fill="#D6D200" stroke="#161600" stroke-width="0.42"/>
<circle cx="66.80" cy="480.51" r="1.50" fill="#D6D200" stroke="#161600" stroke-width="0.42"/>
<circle cx="67.04" cy="489.66" r="1.10" fill="#0F6B40" stroke="#161600" stroke-width="0.42"/>
<circle cx="66.71" cy="498.80" r="1.25" fill="#0F6B40" stroke="#161600" stroke-width="0.42"/>
<circle cx="64.33" cy="489.20" r="1.20" fill="#D6D200" stroke="#161600" stroke-width="0.42"/>
<circle cx="62.98" cy="498.21" r="1.20" fill="#D6D200" stroke="#161600" stroke-width="0.42"/>
<circle cx="61.27" cy="488.46" r="1.10" fill="#D6D200" stroke="#161600" stroke-width="0.42"/>
<circle cx="58.57" cy="497.16" r="1.20" fill="#D6D200" stroke="#161600" stroke-width="0.42"/>
<circle cx="63.19" cy="470.13" r="0.8" fill="#6A080E" stroke="#06160C" stroke-width="0.5"/>
<circle cx="59.81" cy="478.48" r="0.8" fill="#6A080E" stroke="#06160C" stroke-width="0.5"/>
<circle cx="56.44" cy="486.82" r="0.8" fill="#6A080E" stroke="#06160C" stroke-width="0.5"/>
<circle cx="53.03" cy="495.26" r="0.8" fill="#6A080E" stroke="#06160C" stroke-width="0.5"/>
<circle cx="64.25" cy="460.78" r="1.70" fill="#D6D200" stroke="#161600" stroke-width="0.42"/>
<circle cx="59.60" cy="468.36" r="1.50" fill="#D6D200" stroke="#161600" stroke-width="0.42"/>
<circle cx="54.97" cy="476.09" r="1.40" fill="#D6D200" stroke="#161600" stroke-width="0.42"/>
<circle cx="51.21" cy="484.30" r="1.50" fill="#D6D200" stroke="#161600" stroke-width="0.42"/>
<circle cx="48.57" cy="493.22" r="1.40" fill="#D6D200" stroke="#161600" stroke-width="0.42"/>
<circle cx="46.17" cy="491.90" r="1.40" fill="#D6D200" stroke="#161600" stroke-width="0.42"/>
<circle cx="47.10" cy="481.69" r="1.30" fill="#D6D200" stroke="#161600" stroke-width="0.42"/>
<circle cx="41.96" cy="489.20" r="1.40" fill="#D6D200" stroke="#161600" stroke-width="0.42"/>
<circle cx="55.74" cy="440.72" r="2.10" fill="#D6D200" stroke="#161600" stroke-width="0.42"/>
<circle cx="59.39" cy="421.96" r="1.80" fill="#D6D200" stroke="#161600" stroke-width="0.42"/>
<circle cx="52.65" cy="415.61" r="1.70" fill="#D6D200" stroke="#161600" stroke-width="0.42"/>
<circle cx="40.07" cy="414.76" r="2.00" fill="#D6D200" stroke="#161600" stroke-width="0.42"/>
<circle cx="32.16" cy="409.96" r="1.50" fill="#D6D200" stroke="#161600" stroke-width="0.42"/>
<circle cx="33.86" cy="408.07" r="1.50" fill="#D6D200" stroke="#161600" stroke-width="0.42"/>
<circle cx="43.54" cy="411.35" r="1.40" fill="#D6D200" stroke="#161600" stroke-width="0.42"/>
<circle cx="37.66" cy="404.39" r="1.40" fill="#D6D200" stroke="#161600" stroke-width="0.42"/>
<circle cx="45.84" cy="409.45" r="1.40" fill="#D6D200" stroke="#161600" stroke-width="0.42"/>
<circle cx="40.82" cy="401.84" r="1.40" fill="#D6D200" stroke="#161600" stroke-width="0.42"/>
<circle cx="48.66" cy="407.45" r="1.40" fill="#D6D200" stroke="#161600" stroke-width="0.42"/>
<circle cx="43.99" cy="399.63" r="1.40" fill="#D6D200" stroke="#161600" stroke-width="0.42"/>
<circle cx="51.41" cy="405.78" r="1.40" fill="#D6D200" stroke="#161600" stroke-width="0.42"/>
<circle cx="47.49" cy="397.56" r="1.40" fill="#D6D200" stroke="#161600" stroke-width="0.42"/>
<circle cx="54.28" cy="404.32" r="1.40" fill="#D6D200" stroke="#161600" stroke-width="0.42"/>
<circle cx="50.61" cy="395.99" r="1.40" fill="#D6D200" stroke="#161600" stroke-width="0.42"/>
<circle cx="57.39" cy="403.01" r="0.80" fill="#D6D200" stroke="#161600" stroke-width="0.42"/>
<circle cx="63.80" cy="410.38" r="1.50" fill="#D6D200" stroke="#161600" stroke-width="0.42"/>
<circle cx="61.35" cy="401.72" r="1.50" fill="#D6D200" stroke="#161600" stroke-width="0.42"/>
<circle cx="59.02" cy="392.92" r="1.60" fill="#D6D200" stroke="#161600" stroke-width="0.42"/>
<circle cx="66.86" cy="409.68" r="1.40" fill="#D6D200" stroke="#161600" stroke-width="0.42"/>
<circle cx="65.33" cy="400.81" r="1.40" fill="#D6D200" stroke="#161600" stroke-width="0.42"/>
<circle cx="63.72" cy="391.86" r="1.60" fill="#D6D200" stroke="#161600" stroke-width="0.42"/>
<circle cx="46.32" cy="446.23" r="1.90" fill="#D6D200" stroke="#161600" stroke-width="0.42"/>
<circle cx="37.34" cy="446.86" r="1.90" fill="#D6D200" stroke="#161600" stroke-width="0.42"/>
<circle cx="36.94" cy="418.59" r="1.30" fill="#D6D200" stroke="#161600" stroke-width="0.42"/>
<circle cx="35.10" cy="421.32" r="0.90" fill="#D6D200" stroke="#161600" stroke-width="0.42"/>
<circle cx="27.52" cy="416.27" r="1.00" fill="#D6D200" stroke="#161600" stroke-width="0.42"/>
<circle cx="31.01" cy="429.71" r="1.90" fill="#D6D200" stroke="#161600" stroke-width="0.42"/>
<circle cx="25.05" cy="420.62" r="1.00" fill="#D6D200" stroke="#161600" stroke-width="0.42"/>
<circle cx="24.18" cy="422.43" r="1.00" fill="#D6D200" stroke="#161600" stroke-width="0.42"/>
<circle cx="23.37" cy="424.27" r="1.00" fill="#D6D200" stroke="#161600" stroke-width="0.42"/>
<circle cx="22.63" cy="426.14" r="1.00" fill="#D6D200" stroke="#161600" stroke-width="0.42"/>
<circle cx="21.96" cy="428.04" r="1.00" fill="#D6D200" stroke="#161600" stroke-width="0.42"/>
<circle cx="21.36" cy="429.96" r="1.00" fill="#D6D200" stroke="#161600" stroke-width="0.42"/>
<circle cx="20.83" cy="431.90" r="1.00" fill="#D6D200" stroke="#161600" stroke-width="0.42"/>
<circle cx="20.38" cy="433.86" r="1.00" fill="#D6D200" stroke="#161600" stroke-width="0.42"/>
<circle cx="28.52" cy="440.63" r="1.50" fill="#D6D200" stroke="#161600" stroke-width="0.42"/>
<circle cx="19.75" cy="437.38" r="1.10" fill="#D6D200" stroke="#161600" stroke-width="0.42"/>
<circle cx="19.44" cy="440.01" r="1.25" fill="#0F6B40" stroke="#161600" stroke-width="0.42"/>
<circle cx="19.26" cy="442.65" r="1.10" fill="#D6D200" stroke="#161600" stroke-width="0.42"/>
<circle cx="28.44" cy="448.71" r="1.40" fill="#D6D200" stroke="#161600" stroke-width="0.42"/>
<circle cx="19.20" cy="445.57" r="1.00" fill="#D6D200" stroke="#161600" stroke-width="0.42"/>
<circle cx="19.25" cy="447.46" r="1.00" fill="#D6D200" stroke="#161600" stroke-width="0.42"/>
<circle cx="19.37" cy="449.34" r="1.00" fill="#D6D200" stroke="#161600" stroke-width="0.42"/>
<circle cx="19.55" cy="451.22" r="1.00" fill="#D6D200" stroke="#161600" stroke-width="0.42"/>
<circle cx="19.78" cy="453.00" r="1.00" fill="#D6D200" stroke="#161600" stroke-width="0.42"/>
<circle cx="30.83" cy="459.97" r="2.00" fill="#D6D200" stroke="#161600" stroke-width="0.42"/>
<circle cx="20.50" cy="456.90" r="1.00" fill="#D6D200" stroke="#161600" stroke-width="0.42"/>
<circle cx="20.98" cy="458.86" r="1.00" fill="#D6D200" stroke="#161600" stroke-width="0.42"/>
<circle cx="21.53" cy="460.79" r="1.00" fill="#D6D200" stroke="#161600" stroke-width="0.42"/>
<circle cx="22.14" cy="462.70" r="1.00" fill="#D6D200" stroke="#161600" stroke-width="0.42"/>
<circle cx="22.83" cy="464.59" r="1.00" fill="#D6D200" stroke="#161600" stroke-width="0.42"/>
<circle cx="23.59" cy="466.46" r="1.00" fill="#D6D200" stroke="#161600" stroke-width="0.42"/>
<circle cx="24.42" cy="468.29" r="1.25" fill="#0F6B40" stroke="#161600" stroke-width="0.42"/>
<circle cx="25.32" cy="470.09" r="1.00" fill="#D6D200" stroke="#161600" stroke-width="0.42"/>
<circle cx="35.56" cy="469.61" r="1.30" fill="#D6D200" stroke="#161600" stroke-width="0.42"/>
<circle cx="27.27" cy="473.53" r="1.25" fill="#0F6B40" stroke="#161600" stroke-width="0.42"/>
<circle cx="28.77" cy="475.82" r="1.25" fill="#D6D200" stroke="#161600" stroke-width="0.42"/>
<circle cx="38.38" cy="473.48" r="1.30" fill="#D6D200" stroke="#161600" stroke-width="0.42"/>
<circle cx="31.26" cy="479.15" r="1.40" fill="#D6D200" stroke="#161600" stroke-width="0.42"/>
<circle cx="32.47" cy="480.59" r="1.40" fill="#D6D200" stroke="#161600" stroke-width="0.42"/>
<circle cx="55.41" cy="465.32" r="1.40" fill="#D6D200" stroke="#161600" stroke-width="0.42"/>
<circle cx="49.26" cy="471.90" r="1.30" fill="#D6D200" stroke="#161600" stroke-width="0.42"/>
<circle cx="42.90" cy="478.28" r="1.50" fill="#D6D200" stroke="#161600" stroke-width="0.42"/>
<circle cx="36.27" cy="484.54" r="1.40" fill="#D6D200" stroke="#161600" stroke-width="0.42"/>
<circle cx="37.95" cy="486.05" r="1.40" fill="#D6D200" stroke="#161600" stroke-width="0.42"/>
<circle cx="72.04" cy="427.04" r="1.30" fill="#D6D200" stroke="#161600" stroke-width="0.42"/>
<circle cx="71.18" cy="418.18" r="1.40" fill="#D6D200" stroke="#161600" stroke-width="0.42"/>
<circle cx="71.23" cy="409.16" r="1.10" fill="#D6D200" stroke="#161600" stroke-width="0.42"/>
<circle cx="70.55" cy="400.18" r="1.20" fill="#D6D200" stroke="#161600" stroke-width="0.42"/>
<circle cx="69.90" cy="391.11" r="1.40" fill="#D6D200" stroke="#161600" stroke-width="0.42"/>
<circle cx="80.23" cy="428.38" r="2.00" fill="#D6D200" stroke="#161600" stroke-width="0.42"/>
<circle cx="74.90" cy="418.15" r="1.40" fill="#D6D200" stroke="#161600" stroke-width="0.42"/>
<circle cx="75.50" cy="409.17" r="1.20" fill="#D6D200" stroke="#161600" stroke-width="0.42"/>
<circle cx="75.42" cy="400.15" r="1.30" fill="#D6D200" stroke="#161600" stroke-width="0.42"/>
<circle cx="75.75" cy="391.06" r="1.60" fill="#D6D200" stroke="#161600" stroke-width="0.42"/>
<circle cx="78.86" cy="400.45" r="1.20" fill="#D6D200" stroke="#161600" stroke-width="0.42"/>
<circle cx="79.80" cy="391.39" r="1.60" fill="#D6D200" stroke="#161600" stroke-width="0.42"/>
<circle cx="85.98" cy="421.26" r="2.00" fill="#D6D200" stroke="#161600" stroke-width="0.42"/>
<circle cx="90.37" cy="413.40" r="1.80" fill="#D6D200" stroke="#161600" stroke-width="0.42"/>
<circle cx="83.19" cy="401.20" r="1.60" fill="#D6D200" stroke="#161600" stroke-width="0.42"/>
<circle cx="85.47" cy="392.39" r="1.60" fill="#D6D200" stroke="#161600" stroke-width="0.42"/>
<circle cx="86.61" cy="402.11" r="1.20" fill="#D6D200" stroke="#161600" stroke-width="0.42"/>
<circle cx="87.94" cy="393.02" r="1.20" fill="#D6D200" stroke="#161600" stroke-width="0.42"/>
<circle cx="90.20" cy="393.71" r="1.20" fill="#D6D200" stroke="#161600" stroke-width="0.42"/>
<circle cx="91.03" cy="403.74" r="1.20" fill="#D6D200" stroke="#161600" stroke-width="0.42"/>
<circle cx="94.79" cy="395.45" r="1.20" fill="#D6D200" stroke="#161600" stroke-width="0.42"/>
<circle cx="94.01" cy="405.15" r="2.00" fill="#D6D200" stroke="#161600" stroke-width="0.42"/>
<circle cx="98.45" cy="397.20" r="1.80" fill="#D6D200" stroke="#161600" stroke-width="0.42"/>
<circle cx="98.85" cy="408.06" r="1.50" fill="#D6D200" stroke="#161600" stroke-width="0.42"/>
<circle cx="100.76" cy="398.49" r="1.25" fill="#D6D200" stroke="#161600" stroke-width="0.42"/>
<circle cx="102.76" cy="399.73" r="1.25" fill="#D6D200" stroke="#161600" stroke-width="0.42"/>
<circle cx="104.56" cy="400.95" r="1.25" fill="#D6D200" stroke="#161600" stroke-width="0.42"/>
<circle cx="106.46" cy="402.35" r="1.25" fill="#D6D200" stroke="#161600" stroke-width="0.42"/>
<circle cx="104.16" cy="412.35" r="1.40" fill="#D6D200" stroke="#161600" stroke-width="0.42"/>
<circle cx="110.27" cy="405.60" r="1.50" fill="#D6D200" stroke="#161600" stroke-width="0.42"/>
<circle cx="106.48" cy="414.70" r="1.50" fill="#0F6B40" stroke="#161600" stroke-width="0.42"/>
<circle cx="90.20" cy="438.61" r="1.80" fill="#D6D200" stroke="#161600" stroke-width="0.42"/>
<circle cx="95.28" cy="429.42" r="1.50" fill="#D6D200" stroke="#161600" stroke-width="0.42"/>
<circle cx="102.79" cy="424.45" r="1.40" fill="#D6D200" stroke="#161600" stroke-width="0.42"/>
<circle cx="110.52" cy="419.81" r="1.40" fill="#D6D200" stroke="#161600" stroke-width="0.42"/>
<circle cx="116.22" cy="412.17" r="1.20" fill="#D6D200" stroke="#161600" stroke-width="0.42"/>
<circle cx="117.40" cy="413.76" r="1.20" fill="#D6D200" stroke="#161600" stroke-width="0.42"/>
<circle cx="118.41" cy="415.24" r="1.20" fill="#D6D200" stroke="#161600" stroke-width="0.42"/>
<circle cx="119.28" cy="416.59" r="1.20" fill="#D6D200" stroke="#161600" stroke-width="0.42"/>
<circle cx="99.38" cy="438.11" r="1.80" fill="#D6D200" stroke="#161600" stroke-width="0.42"/>
<circle cx="106.56" cy="431.32" r="1.50" fill="#D6D200" stroke="#161600" stroke-width="0.42"/>
<circle cx="115.02" cy="428.24" r="1.50" fill="#D6D200" stroke="#161600" stroke-width="0.42"/>
<circle cx="121.76" cy="421.05" r="1.20" fill="#D6D200" stroke="#161600" stroke-width="0.42"/>
<circle cx="122.95" cy="423.61" r="1.20" fill="#D6D200" stroke="#161600" stroke-width="0.42"/>
<circle cx="123.74" cy="425.54" r="1.20" fill="#D6D200" stroke="#161600" stroke-width="0.42"/>
<circle cx="124.63" cy="428.02" r="1.20" fill="#D6D200" stroke="#161600" stroke-width="0.42"/>
<circle cx="108.86" cy="439.47" r="1.60" fill="#D6D200" stroke="#161600" stroke-width="0.42"/>
<circle cx="117.27" cy="435.51" r="1.60" fill="#D6D200" stroke="#161600" stroke-width="0.42"/>
<circle cx="126.16" cy="433.58" r="1.70" fill="#D6D200" stroke="#161600" stroke-width="0.42"/>
<circle cx="117.86" cy="438.84" r="1.40" fill="#D6D200" stroke="#161600" stroke-width="0.42"/>
<circle cx="126.83" cy="437.29" r="1.40" fill="#D6D200" stroke="#161600" stroke-width="0.42"/>
<circle cx="127.14" cy="439.82" r="1.40" fill="#D6D200" stroke="#161600" stroke-width="0.42"/>
<circle cx="118.20" cy="442.12" r="1.40" fill="#D6D200" stroke="#161600" stroke-width="0.42"/>
<circle cx="127.33" cy="442.36" r="1.50" fill="#D6D200" stroke="#161600" stroke-width="0.42"/>
<circle cx="91.31" cy="446.90" r="1.20" fill="#D6D200" stroke="#161600" stroke-width="0.42"/>
<circle cx="100.13" cy="448.11" r="1.30" fill="#D6D200" stroke="#161600" stroke-width="0.42"/>
<circle cx="109.10" cy="448.93" r="1.30" fill="#D6D200" stroke="#161600" stroke-width="0.42"/>
<circle cx="118.04" cy="449.96" r="1.30" fill="#D6D200" stroke="#161600" stroke-width="0.42"/>
<circle cx="127.07" cy="451.04" r="1.30" fill="#D6D200" stroke="#161600" stroke-width="0.42"/>
<circle cx="90.86" cy="449.48" r="1.20" fill="#D6D200" stroke="#161600" stroke-width="0.42"/>
<circle cx="99.64" cy="451.04" r="1.40" fill="#D6D200" stroke="#161600" stroke-width="0.42"/>
<circle cx="108.38" cy="453.20" r="1.40" fill="#D6D200" stroke="#161600" stroke-width="0.42"/>
<circle cx="117.18" cy="455.07" r="1.50" fill="#D6D200" stroke="#161600" stroke-width="0.42"/>
<circle cx="126.03" cy="457.18" r="1.50" fill="#D6D200" stroke="#161600" stroke-width="0.42"/>
<circle cx="90.24" cy="451.47" r="1.00" fill="#D6D200" stroke="#161600" stroke-width="0.42"/>
<circle cx="98.64" cy="454.42" r="1.20" fill="#D6D200" stroke="#161600" stroke-width="0.42"/>
<circle cx="107.15" cy="457.35" r="1.30" fill="#D6D200" stroke="#161600" stroke-width="0.42"/>
<circle cx="115.75" cy="460.05" r="1.30" fill="#D6D200" stroke="#161600" stroke-width="0.42"/>
<text x="0" y="0" font-size="10.5" font-weight="bold" fill="#000" stroke="#000" stroke-width="0.35" transform="translate(277.30 358.80) scale(1.12 1)">F</text>
<rect x="297.00" y="365.60" width="45.50" height="15.00" fill="#fff" stroke="#222" stroke-width="1.25" rx="0.8"/>
<rect x="382.90" y="365.60" width="45.20" height="15.00" fill="#fff" stroke="#222" stroke-width="1.25" rx="0.8"/>
<rect x="297.00" y="411.90" width="45.50" height="15.20" fill="#fff" stroke="#222" stroke-width="1.25" rx="0.8"/>
<rect x="382.90" y="411.90" width="45.20" height="15.20" fill="#fff" stroke="#222" stroke-width="1.25" rx="0.8"/>
<rect x="382.50" y="458.40" width="45.30" height="15.10" fill="#fff" stroke="#222" stroke-width="1.25" rx="0.8"/>
<rect x="457.00" y="458.40" width="44.30" height="15.10" fill="#fff" stroke="#222" stroke-width="1.25" rx="0.8"/>
<text x="319.70" y="375.40" font-size="6.1" text-anchor="middle" fill="#151515" stroke="#151515" stroke-width="0.12" >Arginine</text>
<text x="412.10" y="375.40" font-size="6.1" text-anchor="middle" fill="#151515" stroke="#151515" stroke-width="0.12" >Ornithine</text>
<text x="325.60" y="421.70" font-size="6.1" text-anchor="middle" fill="#151515" stroke="#151515" stroke-width="0.12" >Agmatine</text>
<text x="412.00" y="421.70" font-size="6.1" text-anchor="middle" fill="#151515" stroke="#151515" stroke-width="0.12" >Putrescine</text>
<text x="411.00" y="468.10" font-size="6.1" text-anchor="middle" fill="#151515" stroke="#151515" stroke-width="0.12" >Spermidine</text>
<text x="486.60" y="468.10" font-size="6.1" text-anchor="middle" fill="#151515" stroke="#151515" stroke-width="0.12" >Spermine</text>
<rect x="385.60" y="370.60" width="5.30" height="5.60" fill="#B8525E" stroke="#666" stroke-width="0.6" />
<rect x="390.90" y="370.60" width="5.30" height="5.60" fill="#ECC4C6" stroke="#666" stroke-width="0.6" />
<rect x="299.30" y="416.70" width="5.30" height="5.60" fill="#C0616C" stroke="#666" stroke-width="0.6" />
<rect x="304.60" y="416.70" width="5.30" height="5.60" fill="#FFFFFF" stroke="#666" stroke-width="0.6" />
<rect x="385.10" y="416.70" width="5.30" height="5.60" fill="#8E1519" stroke="#666" stroke-width="0.6" />
<rect x="390.40" y="416.70" width="5.30" height="5.60" fill="#E8B0B4" stroke="#666" stroke-width="0.6" />
<rect x="384.20" y="463.00" width="5.30" height="5.60" fill="#C4666E" stroke="#666" stroke-width="0.6" />
<rect x="389.50" y="463.00" width="5.30" height="5.60" fill="#EFCFD0" stroke="#666" stroke-width="0.6" />
<rect x="459.70" y="463.00" width="5.30" height="5.60" fill="#8FC0C4" stroke="#666" stroke-width="0.6" />
<rect x="465.00" y="463.00" width="5.30" height="5.60" fill="#9A1A20" stroke="#666" stroke-width="0.6" />
<text x="366.30" y="391.60" font-size="6.1" text-anchor="middle" fill="#151515" stroke="#151515" stroke-width="0.12" >N-carbamoyl-</text>
<text x="366.30" y="399.20" font-size="6.1" text-anchor="middle" fill="#151515" stroke="#151515" stroke-width="0.12" >putrescine</text>
<rect x="360.50" y="403.70" width="5.30" height="5.60" fill="#BA5562" stroke="#666" stroke-width="0.6" />
<rect x="365.80" y="403.70" width="5.30" height="5.60" fill="#F3DCDC" stroke="#666" stroke-width="0.6" />
<text x="446.00" y="409.40" font-size="6.1" text-anchor="start" fill="#151515" stroke="#151515" stroke-width="0.12" >1,3-diaminopropane</text>
<rect x="502.40" y="405.10" width="5.30" height="5.60" fill="#3F8E8E" stroke="#666" stroke-width="0.6" />
<rect x="507.70" y="405.10" width="5.30" height="5.60" fill="#F2CDCD" stroke="#666" stroke-width="0.6" />
<text x="446.00" y="420.80" font-size="6.1" text-anchor="start" fill="#151515" stroke="#151515" stroke-width="0.12" >N-acetylputrescine</text>
<rect x="498.60" y="416.50" width="5.30" height="5.60" fill="#9A1A20" stroke="#666" stroke-width="0.6" />
<rect x="503.90" y="416.50" width="5.30" height="5.60" fill="#F2C6C6" stroke="#666" stroke-width="0.6" />
<text x="412.50" y="440.20" font-size="6.1" text-anchor="start" fill="#151515" stroke="#151515" stroke-width="0.12" >5-methylthioadenosine</text>
<rect x="437.60" y="444.10" width="5.45" height="5.70" fill="#8FC0C4" stroke="#666" stroke-width="0.6" />
<rect x="443.05" y="444.10" width="5.45" height="5.70" fill="#E2A2AA" stroke="#666" stroke-width="0.6" />
<text x="412.50" y="455.60" font-size="6.1" text-anchor="start" fill="#151515" stroke="#151515" stroke-width="0.12" >5-methylthioadenosine</text>
<text x="379.60" y="443.10" font-size="6.1" text-anchor="middle" fill="#151515" stroke="#151515" stroke-width="0.12" >N(1)-</text>
<text x="379.80" y="451.30" font-size="6.1" text-anchor="middle" fill="#151515" stroke="#151515" stroke-width="0.12" >acetylspermidine</text>
<rect x="343.90" y="445.40" width="5.30" height="5.60" fill="#7DB2B4" stroke="#666" stroke-width="0.6" />
<rect x="349.20" y="445.40" width="5.30" height="5.60" fill="#CADFE0" stroke="#666" stroke-width="0.6" />
<text x="438.30" y="484.10" font-size="6.1" text-anchor="middle" fill="#151515" stroke="#151515" stroke-width="0.12" >N(1)-</text>
<text x="438.60" y="492.60" font-size="6.1" text-anchor="middle" fill="#151515" stroke="#151515" stroke-width="0.12" >acetylspermine</text>
<rect x="459.80" y="487.50" width="5.30" height="5.60" fill="#A9D1D9" stroke="#666" stroke-width="0.6" />
<rect x="465.10" y="487.50" width="5.30" height="5.60" fill="#F3D3D3" stroke="#666" stroke-width="0.6" />
<text x="444.60" y="507.90" font-size="6.1" text-anchor="middle" fill="#151515" stroke="#151515" stroke-width="0.12" >N1,N12-</text>
<text x="444.80" y="516.10" font-size="6.1" text-anchor="middle" fill="#151515" stroke="#151515" stroke-width="0.12" >diacetylspermine</text>
<rect x="436.30" y="518.70" width="5.30" height="5.60" fill="#D9C3CB" stroke="#666" stroke-width="0.6" />
<rect x="441.60" y="518.70" width="5.30" height="5.60" fill="#EBC3CB" stroke="#666" stroke-width="0.6" />
<circle cx="301.4" cy="424.5" r="1.1" fill="#E01010"/>
<circle cx="387.4" cy="424.3" r="1.1" fill="#2EA32E"/>
<circle cx="363.2" cy="411.6" r="1.1" fill="#2EA32E"/>
<circle cx="501.2" cy="425.0" r="1.1" fill="#E01010"/>
<line x1="342.50" y1="373.20" x2="370.00" y2="373.20" stroke="#111" stroke-width="0.95" />
<polygon points="374.80,373.20 368.80,375.45 368.80,370.95" fill="#111"/>
<line x1="319.60" y1="380.60" x2="319.60" y2="396.50" stroke="#111" stroke-width="0.95" />
<polygon points="319.60,401.00 317.35,395.00 321.85,395.00" fill="#111"/>
<line x1="403.70" y1="380.60" x2="403.70" y2="399.80" stroke="#111" stroke-width="0.95" />
<polygon points="403.70,404.40 401.45,398.40 405.95,398.40" fill="#111"/>
<line x1="342.50" y1="418.60" x2="370.00" y2="418.60" stroke="#111" stroke-width="0.95" />
<polygon points="374.60,418.60 368.60,420.85 368.60,416.35" fill="#111"/>
<line x1="403.70" y1="427.10" x2="403.70" y2="442.00" stroke="#111" stroke-width="0.95" />
<polygon points="403.70,446.40 401.50,441.20 405.90,441.20" fill="#111"/>
<line x1="428.10" y1="419.60" x2="435.60" y2="419.60" stroke="#111" stroke-width="0.95" />
<polygon points="440.00,419.60 434.00,421.85 434.00,417.35" fill="#111"/>
<line x1="428.10" y1="414.90" x2="435.40" y2="412.90" stroke="#111" stroke-width="0.95" />
<polygon points="439.90,411.70 434.69,415.43 433.52,411.08" fill="#111"/>
<line x1="427.80" y1="465.70" x2="445.60" y2="465.70" stroke="#111" stroke-width="0.95" />
<polygon points="450.20,465.70 444.40,468.10 444.40,463.30" fill="#111"/>
<line x1="441.10" y1="494.60" x2="441.10" y2="498.20" stroke="#111" stroke-width="0.95" />
<polygon points="441.10,502.20 439.10,497.20 443.10,497.20" fill="#111"/>
<path d="M343.1,409.8 Q343.4,402.4 347.4,399.8" fill="none" stroke="#111" stroke-width="0.95" />
<polygon points="350.80,397.40 348.03,401.98 345.69,398.98" fill="#111"/>
<path d="M381.6,397.2 Q388.6,398.0 390.3,403.4" fill="none" stroke="#111" stroke-width="0.95" />
<polygon points="391.90,406.80 388.70,402.52 392.35,401.47" fill="#111"/>
<path d="M372.0,435.6 Q371.4,429.4 376.0,426.6" fill="none" stroke="#111" stroke-width="0.95" />
<polygon points="379.20,424.80 375.82,428.95 373.92,425.65" fill="#111"/>
<path d="M403.7,430.8 Q404.2,439.4 407.6,440.8" fill="none" stroke="#111" stroke-width="0.95" />
<polygon points="411.00,442.20 406.28,442.13 407.56,438.98" fill="#111"/>
<path d="M382.6,463.8 Q374.6,463.0 373.6,459.0" fill="none" stroke="#111" stroke-width="0.95" />
<polygon points="373.40,455.00 375.56,459.89 371.76,460.09" fill="#111"/>
<path d="M436.0,465.7 Q440.6,465.4 441.8,462.6" fill="none" stroke="#111" stroke-width="0.95" />
<polygon points="443.40,459.60 442.51,464.23 439.63,462.43" fill="#111"/>
<path d="M412.6,473.5 Q413.6,482.4 422.0,484.4" fill="none" stroke="#111" stroke-width="0.95" />
<polygon points="426.40,485.40 421.10,486.13 421.96,482.42" fill="#111"/>
<path d="M469.4,473.5 Q469.0,481.0 463.6,484.2" fill="none" stroke="#111" stroke-width="0.95" />
<polygon points="459.80,486.20 463.32,482.18 465.11,485.53" fill="#111"/>
<circle cx="291.7" cy="483.0" r="1.5" fill="#E01010"/>
<circle cx="291.7" cy="491.0" r="1.5" fill="#2EA32E"/>
<text x="296.60" y="484.90" font-size="5.2" text-anchor="start" fill="#151515" stroke="#151515" stroke-width="0.07" >FDR&lt;0.05 and MIMOSA</text>
<text x="296.60" y="492.90" font-size="5.2" text-anchor="start" fill="#151515" stroke="#151515" stroke-width="0.07" >FDR&lt;0.05</text>
<defs><linearGradient id="cb" x1="0" x2="1" y1="0" y2="0"><stop offset="0" stop-color="#6E0B0B"/><stop offset="0.25" stop-color="#B06060"/><stop offset="0.5" stop-color="#FFFFFF"/><stop offset="0.75" stop-color="#A9C4C4"/><stop offset="1" stop-color="#4F8080"/></linearGradient></defs>
<rect x="291.70" y="500.30" width="119.70" height="8.10" fill="url(#cb)" stroke="#222" stroke-width="0.7" />
<text x="291.50" y="517.20" font-size="6.2" text-anchor="middle" fill="#151515" stroke="#151515" stroke-width="0.12" >-2.00</text>
<text x="351.70" y="517.20" font-size="6.2" text-anchor="middle" fill="#151515" stroke="#151515" stroke-width="0.12" >0.00</text>
<text x="412.30" y="517.20" font-size="6.2" text-anchor="middle" fill="#151515" stroke="#151515" stroke-width="0.12" >2.00</text>
<text x="352.20" y="529.00" font-size="9.0" text-anchor="middle" fill="#151515" textLength="44.70" lengthAdjust="spacingAndGlyphs" stroke="#151515" stroke-width="0.32" >Log2 fold change</text>
<rect x="0.6" y="0.6" width="518.8" height="536.8" fill="none" stroke="#000" stroke-width="1.3"/>
</svg>
</body></html>
